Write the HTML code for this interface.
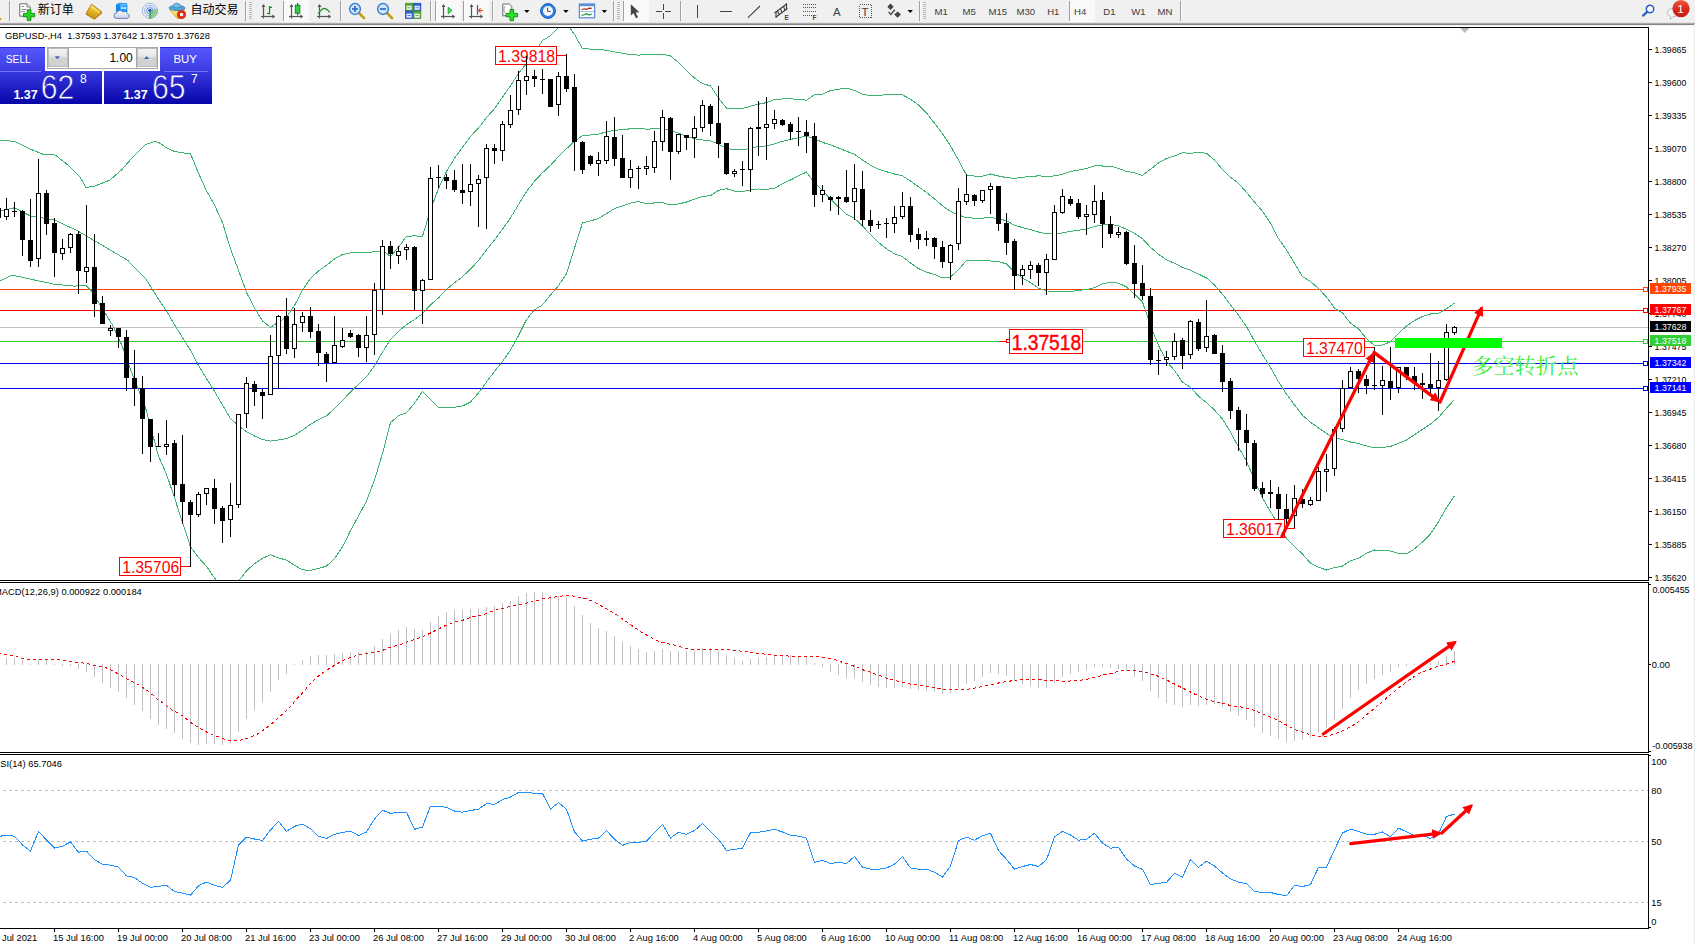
<!DOCTYPE html><html><head><meta charset="utf-8"><title>GBPUSD H4</title>
<style>html,body{margin:0;padding:0;background:#fff;}body{width:1695px;height:943px;overflow:hidden;position:relative;font-family:"Liberation Sans", "Noto Sans CJK SC", sans-serif;}svg{position:absolute;left:0;top:0;}text{font-family:"Liberation Sans", "Noto Sans CJK SC", sans-serif;}</style></head><body>
<svg width="1695" height="943" viewBox="0 0 1695 943">
<rect x="0" y="0" width="1695" height="943" fill="#fff"/>
<defs><clipPath id="cm"><rect x="0" y="28" width="1648" height="552"/></clipPath>
<clipPath id="cmacd"><rect x="0" y="583" width="1648" height="169"/></clipPath>
<clipPath id="crsi"><rect x="0" y="755" width="1648" height="173"/></clipPath>
<linearGradient id="gsell" x1="0" y1="0" x2="0" y2="1"><stop offset="0" stop-color="#5858ff"/><stop offset="1" stop-color="#3a3ae0"/></linearGradient>
<linearGradient id="gpx" x1="0" y1="0" x2="0" y2="1"><stop offset="0" stop-color="#3838e0"/><stop offset="1" stop-color="#0505a8"/></linearGradient>
<linearGradient id="gpx2" gradientUnits="userSpaceOnUse" x1="0" y1="71" x2="0" y2="104"><stop offset="0" stop-color="#3838e0"/><stop offset="1" stop-color="#0505a8"/></linearGradient>
<linearGradient id="gbook" x1="0.6" y1="0" x2="0.3" y2="1"><stop offset="0" stop-color="#f8d838"/><stop offset="1" stop-color="#c98e10"/></linearGradient>
<linearGradient id="gred" x1="0" y1="0" x2="0" y2="1"><stop offset="0" stop-color="#ee5a3c"/><stop offset="0.5" stop-color="#da2c18"/><stop offset="1" stop-color="#c41c10"/></linearGradient>
<linearGradient id="gcloud" x1="0" y1="0" x2="0" y2="1"><stop offset="0" stop-color="#ffffff"/><stop offset="1" stop-color="#c4d0e8"/></linearGradient>
<linearGradient id="gcone" x1="0" y1="0" x2="1" y2="1"><stop offset="0" stop-color="#fff0a0"/><stop offset="1" stop-color="#e8b818"/></linearGradient>
<linearGradient id="gbtn" x1="0" y1="0" x2="0" y2="1"><stop offset="0" stop-color="#f4f4f4"/><stop offset="0.45" stop-color="#e6e6e6"/><stop offset="0.5" stop-color="#d4d4d4"/><stop offset="1" stop-color="#cfcfcf"/></linearGradient>
<marker id="ah" viewBox="0 0 10 10" refX="7" refY="5" markerWidth="3.1" markerHeight="3.1" orient="auto"><path d="M0,0 L10,5 L0,10 z" fill="#ff0000"/></marker>
</defs>
<g clip-path="url(#cm)">
<g shape-rendering="crispEdges">
<rect x="0" y="289" width="1648" height="1" fill="#ff4500"/>
<rect x="0" y="310" width="1648" height="1" fill="#ff0000"/>
<rect x="0" y="327" width="1648" height="1" fill="#c0c0c0"/>
<rect x="0" y="341" width="1648" height="1" fill="#32cd32"/>
<rect x="0" y="363" width="1648" height="1" fill="#0000ff"/>
<rect x="0" y="388" width="1648" height="1" fill="#0000ff"/>
</g>
<g shape-rendering="crispEdges">
<polyline points="0.0,140.0 14.8,141.5 29.7,148.9 44.5,154.8 54.9,154.8 68.2,165.2 80.1,177.1 86.0,187.5 95.0,186.0 109.8,180.1 121.7,169.7 133.5,156.3 145.4,144.5 154.3,141.5 158.5,142.3 166.5,147.8 174.5,151.5 182.5,152.8 190.5,153.8 198.5,173.2 206.5,190.9 214.5,204.9 222.5,222.5 230.5,249.0 238.5,270.3 246.5,292.4 254.5,308.2 262.5,321.0 270.5,327.2 278.5,322.1 286.5,316.9 294.5,305.4 302.5,290.4 310.5,278.4 318.5,271.0 326.5,265.4 334.5,258.9 342.5,254.5 350.5,252.9 358.5,252.7 366.5,252.5 374.5,251.8 382.5,250.6 390.5,256.5 398.5,247.1 406.5,236.3 414.5,235.9 422.5,236.2 430.5,210.0 438.5,188.5 446.5,171.5 454.5,158.3 462.5,147.2 470.5,136.4 478.5,128.0 486.5,117.5 494.5,108.7 502.5,97.1 510.5,85.7 518.5,73.4 526.5,63.5 534.5,52.4 542.5,40.5 550.5,35.7 558.5,27.6 566.5,23.5 574.5,34.4 582.5,48.6 590.5,49.1 598.5,49.6 606.5,50.2 614.5,51.9 622.5,53.3 630.5,54.5 638.5,55.1 646.5,54.6 654.5,54.6 662.5,54.1 670.5,56.0 678.5,62.4 686.5,70.5 694.5,78.1 702.5,83.5 710.5,85.9 718.5,98.0 726.5,108.2 734.5,108.5 742.5,108.5 750.5,106.2 758.5,104.2 766.5,102.6 774.5,99.5 782.5,99.0 790.5,98.9 798.5,99.3 806.5,100.2 814.5,94.7 822.5,94.2 830.5,90.6 838.5,89.2 846.5,88.2 854.5,90.3 862.5,94.1 870.5,95.6 878.5,95.8 886.5,94.5 894.5,94.3 902.5,94.8 910.5,99.3 918.5,104.8 926.5,112.9 934.5,123.3 942.5,133.6 950.5,145.9 958.5,160.2 966.5,175.2 974.5,176.1 982.5,176.2 990.5,174.0 998.5,176.0 1006.5,177.6 1014.5,178.4 1022.5,177.2 1030.5,176.6 1038.5,175.8 1046.5,176.5 1054.5,175.9 1062.5,174.3 1070.5,171.4 1078.5,170.1 1086.5,168.6 1094.5,165.7 1102.5,166.0 1110.5,166.0 1118.5,168.4 1126.5,171.5 1134.5,172.7 1142.5,175.4 1150.5,169.3 1158.5,163.0 1166.5,158.5 1174.5,155.9 1182.5,152.8 1190.5,153.3 1198.5,152.2 1206.5,153.3 1214.5,160.1 1222.5,169.5 1230.5,177.2 1238.5,183.4 1246.5,192.3 1254.5,202.0 1262.5,211.3 1270.5,223.2 1278.5,238.6 1286.5,250.0 1294.5,263.3 1302.5,276.7 1310.5,281.4 1318.5,288.6 1326.5,297.0 1334.5,308.1 1342.5,313.0 1350.5,323.2 1358.5,328.7 1366.5,338.8 1374.5,345.3 1382.5,345.0 1390.5,341.8 1398.5,333.3 1406.5,326.1 1414.5,320.5 1422.5,316.5 1430.5,314.0 1438.5,313.4 1446.5,308.7 1454.5,303.2" fill="none" stroke="#3cb371" stroke-width="1" />
<polyline points="0.0,211.0 14.8,207.7 29.7,215.7 54.9,220.2 77.2,230.6 95.0,241.0 127.6,260.3 145.4,278.1 158.5,299.2 166.5,311.0 174.5,324.6 182.5,337.7 190.5,350.4 198.5,365.4 206.5,378.6 214.5,391.4 222.5,405.0 230.5,418.6 238.5,425.8 246.5,431.6 254.5,436.0 262.5,439.6 270.5,441.1 278.5,440.0 286.5,438.5 294.5,435.3 302.5,430.2 310.5,424.4 318.5,419.8 326.5,415.8 334.5,408.8 342.5,400.7 350.5,391.8 358.5,384.4 366.5,376.8 374.5,365.8 382.5,352.1 390.5,339.6 398.5,331.4 406.5,324.6 414.5,319.5 422.5,313.7 430.5,304.8 438.5,297.9 446.5,289.5 454.5,282.8 462.5,276.6 470.5,269.2 478.5,260.5 486.5,249.8 494.5,240.0 502.5,229.2 510.5,217.9 518.5,204.5 526.5,191.6 534.5,181.1 542.5,172.7 550.5,165.3 558.5,156.6 566.5,148.7 574.5,141.3 582.5,135.7 590.5,135.0 598.5,134.1 606.5,131.9 614.5,130.3 622.5,129.6 630.5,128.8 638.5,128.3 646.5,129.2 654.5,128.8 662.5,128.4 670.5,130.5 678.5,133.2 686.5,136.3 694.5,138.7 702.5,140.0 710.5,140.8 718.5,144.2 726.5,148.4 734.5,149.9 742.5,149.9 750.5,148.2 758.5,146.6 766.5,145.9 774.5,144.0 782.5,141.3 790.5,139.5 798.5,137.6 806.5,136.1 814.5,138.7 822.5,142.4 830.5,144.8 838.5,148.0 846.5,151.2 854.5,154.3 862.5,160.0 870.5,165.1 878.5,169.2 886.5,171.7 894.5,174.0 902.5,175.8 910.5,181.1 918.5,186.7 926.5,192.5 934.5,198.9 942.5,205.8 950.5,211.4 958.5,214.9 966.5,217.8 974.5,218.1 982.5,218.1 990.5,217.5 998.5,218.7 1006.5,220.8 1014.5,225.2 1022.5,227.6 1030.5,229.6 1038.5,232.0 1046.5,233.8 1054.5,233.5 1062.5,233.0 1070.5,231.4 1078.5,230.3 1086.5,229.0 1094.5,226.7 1102.5,224.8 1110.5,224.3 1118.5,225.8 1126.5,229.3 1134.5,233.4 1142.5,238.7 1150.5,247.4 1158.5,254.2 1166.5,259.9 1174.5,263.2 1182.5,267.5 1190.5,270.3 1198.5,274.1 1206.5,277.9 1214.5,285.0 1222.5,294.3 1230.5,304.7 1238.5,315.3 1246.5,326.7 1254.5,341.1 1262.5,354.6 1270.5,367.6 1278.5,381.5 1286.5,394.2 1294.5,405.0 1302.5,415.3 1310.5,422.3 1318.5,427.9 1326.5,433.5 1334.5,437.9 1342.5,439.5 1350.5,442.0 1358.5,443.5 1366.5,446.0 1374.5,447.7 1382.5,447.6 1390.5,446.4 1398.5,443.3 1406.5,440.0 1414.5,434.7 1422.5,429.3 1430.5,424.0 1438.5,417.5 1446.5,408.2 1454.5,399.6" fill="none" stroke="#3cb371" stroke-width="1" />
<polyline points="0.0,281.0 11.9,275.1 29.7,279.0 53.4,284.0 74.2,286.1 86.0,285.5 92.0,291.4 100.9,306.3 112.8,325.6 121.7,344.9 133.5,377.5 145.4,407.2 158.5,456.2 166.5,474.1 174.5,497.7 182.5,522.6 190.5,546.9 198.5,557.6 206.5,566.4 214.5,578.0 222.5,587.6 230.5,588.2 238.5,581.3 246.5,570.8 254.5,563.8 262.5,558.3 270.5,554.9 278.5,557.9 286.5,560.1 294.5,565.2 302.5,569.9 310.5,570.3 318.5,568.5 326.5,566.1 334.5,558.6 342.5,546.9 350.5,530.6 358.5,516.1 366.5,501.0 374.5,479.9 382.5,453.7 390.5,422.7 398.5,415.7 406.5,412.8 414.5,403.1 422.5,391.3 430.5,399.7 438.5,407.4 446.5,407.5 454.5,407.2 462.5,406.0 470.5,402.0 478.5,393.0 486.5,382.0 494.5,371.4 502.5,361.4 510.5,350.1 518.5,335.6 526.5,319.6 534.5,309.7 542.5,304.9 550.5,295.0 558.5,285.6 566.5,273.8 574.5,248.1 582.5,222.8 590.5,220.9 598.5,218.5 606.5,213.6 614.5,208.7 622.5,205.8 630.5,203.2 638.5,201.5 646.5,203.8 654.5,202.9 662.5,202.7 670.5,205.0 678.5,204.0 686.5,202.0 694.5,199.3 702.5,196.4 710.5,195.7 718.5,190.4 726.5,188.7 734.5,191.2 742.5,191.4 750.5,190.1 758.5,189.0 766.5,189.3 774.5,188.4 782.5,183.7 790.5,180.0 798.5,175.9 806.5,172.0 814.5,182.8 822.5,190.6 830.5,199.0 838.5,206.8 846.5,214.3 854.5,218.3 862.5,225.9 870.5,234.7 878.5,242.5 886.5,248.9 894.5,253.7 902.5,256.7 910.5,263.0 918.5,268.6 926.5,272.1 934.5,274.5 942.5,277.9 950.5,277.0 958.5,269.7 966.5,260.4 974.5,260.1 982.5,260.1 990.5,261.0 998.5,261.4 1006.5,264.0 1014.5,271.9 1022.5,278.0 1030.5,282.6 1038.5,288.2 1046.5,291.0 1054.5,291.1 1062.5,291.7 1070.5,291.5 1078.5,290.5 1086.5,289.5 1094.5,287.7 1102.5,283.7 1110.5,282.5 1118.5,283.1 1126.5,287.0 1134.5,294.2 1142.5,302.0 1150.5,325.5 1158.5,345.4 1166.5,361.3 1174.5,370.5 1182.5,382.2 1190.5,387.3 1198.5,396.1 1206.5,402.6 1214.5,410.0 1222.5,419.1 1230.5,432.1 1238.5,447.1 1246.5,461.1 1254.5,480.1 1262.5,497.8 1270.5,512.0 1278.5,524.4 1286.5,538.4 1294.5,546.6 1302.5,554.0 1310.5,563.2 1318.5,567.3 1326.5,570.0 1334.5,567.7 1342.5,566.0 1350.5,560.8 1358.5,558.3 1366.5,553.2 1374.5,550.0 1382.5,550.2 1390.5,551.1 1398.5,553.4 1406.5,553.9 1414.5,548.9 1422.5,542.0 1430.5,533.9 1438.5,521.6 1446.5,507.6 1454.5,495.9" fill="none" stroke="#3cb371" stroke-width="1" />
</g>
<rect x="495.5" y="46.5" width="61.0" height="18.0" fill="#fff" stroke="#ff0000" stroke-width="1" shape-rendering="crispEdges"/>
<text x="498.0" y="61.9" font-size="16.6px" fill="#ff0000" textLength="57" lengthAdjust="spacingAndGlyphs" >1.39818</text>
<g shape-rendering="crispEdges" fill="#ff0000"><rect x="557" y="55" width="10" height="1"/></g>
<rect x="119.5" y="557.5" width="61.0" height="18.0" fill="#fff" stroke="#ff0000" stroke-width="1" shape-rendering="crispEdges"/>
<text x="122.2" y="572.9" font-size="16.8px" fill="#ff0000" textLength="57" lengthAdjust="spacingAndGlyphs" >1.35706</text>
<g shape-rendering="crispEdges" fill="#ff0000"><rect x="181" y="566" width="9" height="1"/></g>
<rect x="1009.5" y="329.5" width="73.0" height="24.0" fill="#fff" stroke="#ff0000" stroke-width="1" shape-rendering="crispEdges"/>
<text x="1011.7" y="350.2" font-size="22.5px" fill="#ff0000" textLength="69.5" lengthAdjust="spacingAndGlyphs" stroke="#ff0000" stroke-width="0.45">1.37518</text>
<g shape-rendering="crispEdges"><rect x="999" y="341" width="8" height="1" fill="#ff0000"/><rect x="1006.5" y="339.5" width="3" height="3" fill="#fff" stroke="#ff0000"/></g>
<rect x="1223.5" y="519.5" width="61.0" height="18.0" fill="#fff" stroke="#ff0000" stroke-width="1" shape-rendering="crispEdges"/>
<text x="1225.9" y="535.0" font-size="16.8px" fill="#ff0000" textLength="57" lengthAdjust="spacingAndGlyphs" >1.36017</text>
<g shape-rendering="crispEdges" fill="#ff0000"><rect x="1285" y="528" width="10" height="1"/></g>
<rect x="1303.5" y="338.5" width="61.0" height="18.0" fill="#fff" stroke="#ff0000" stroke-width="1" shape-rendering="crispEdges"/>
<text x="1305.9" y="354.0" font-size="16.8px" fill="#ff0000" textLength="57" lengthAdjust="spacingAndGlyphs" >1.37470</text>
<g shape-rendering="crispEdges" fill="#ff0000"><rect x="1365" y="347" width="9" height="1"/></g>
<g shape-rendering="crispEdges" fill="#000">
<rect x="-2" y="206" width="1" height="14"/>
<rect x="-4" y="208" width="5" height="10"/>
<rect x="6" y="198" width="1" height="11"/>
<rect x="6" y="217" width="1" height="3"/>
<rect x="4.5" y="209.5" width="4" height="7" fill="#fff" stroke="#000" stroke-width="1"/>
<rect x="14" y="202" width="1" height="15"/>
<rect x="12" y="211" width="5" height="1"/>
<rect x="22" y="210" width="1" height="46"/>
<rect x="20" y="211" width="5" height="29"/>
<rect x="30" y="199" width="1" height="68"/>
<rect x="28" y="240" width="5" height="21"/>
<rect x="38" y="159" width="1" height="34"/>
<rect x="38" y="259" width="1" height="8"/>
<rect x="36.5" y="193.5" width="4" height="65" fill="#fff" stroke="#000" stroke-width="1"/>
<rect x="46" y="190" width="1" height="45"/>
<rect x="44" y="193" width="5" height="31"/>
<rect x="54" y="218" width="1" height="59"/>
<rect x="52" y="223" width="5" height="30"/>
<rect x="62" y="239" width="1" height="9"/>
<rect x="62" y="254" width="1" height="6"/>
<rect x="60.5" y="248.5" width="4" height="5" fill="#fff" stroke="#000" stroke-width="1"/>
<rect x="70" y="233" width="1" height="1"/>
<rect x="70" y="248" width="1" height="5"/>
<rect x="68.5" y="234.5" width="4" height="13" fill="#fff" stroke="#000" stroke-width="1"/>
<rect x="78" y="231" width="1" height="63"/>
<rect x="76" y="234" width="5" height="37"/>
<rect x="86" y="205" width="1" height="62"/>
<rect x="86" y="272" width="1" height="11"/>
<rect x="84.5" y="267.5" width="4" height="4" fill="#fff" stroke="#000" stroke-width="1"/>
<rect x="94" y="234" width="1" height="83"/>
<rect x="92" y="267" width="5" height="37"/>
<rect x="102" y="296" width="1" height="28"/>
<rect x="100" y="303" width="5" height="21"/>
<rect x="110" y="325" width="1" height="3"/>
<rect x="110" y="331" width="1" height="5"/>
<rect x="108.5" y="328.5" width="4" height="2" fill="#fff" stroke="#000" stroke-width="1"/>
<rect x="118" y="328" width="1" height="20"/>
<rect x="116" y="328" width="5" height="9"/>
<rect x="126" y="330" width="1" height="61"/>
<rect x="124" y="337" width="5" height="41"/>
<rect x="134" y="350" width="1" height="56"/>
<rect x="132" y="378" width="5" height="11"/>
<rect x="142" y="376" width="1" height="78"/>
<rect x="140" y="388" width="5" height="31"/>
<rect x="150" y="419" width="1" height="43"/>
<rect x="148" y="419" width="5" height="28"/>
<rect x="158" y="433" width="1" height="14"/>
<rect x="156" y="446" width="5" height="1"/>
<rect x="166" y="420" width="1" height="24"/>
<rect x="166" y="447" width="1" height="8"/>
<rect x="164.5" y="444.5" width="4" height="2" fill="#fff" stroke="#000" stroke-width="1"/>
<rect x="174" y="440" width="1" height="56"/>
<rect x="172" y="443" width="5" height="42"/>
<rect x="182" y="435" width="1" height="89"/>
<rect x="180" y="484" width="5" height="18"/>
<rect x="190" y="500" width="1" height="67"/>
<rect x="188" y="502" width="5" height="13"/>
<rect x="198" y="492" width="1" height="2"/>
<rect x="198" y="515" width="1" height="2"/>
<rect x="196.5" y="494.5" width="4" height="20" fill="#fff" stroke="#000" stroke-width="1"/>
<rect x="206" y="494" width="1" height="11"/>
<rect x="204.5" y="488.5" width="4" height="5" fill="#fff" stroke="#000" stroke-width="1"/>
<rect x="214" y="479" width="1" height="45"/>
<rect x="212" y="488" width="5" height="21"/>
<rect x="222" y="506" width="1" height="37"/>
<rect x="220" y="508" width="5" height="13"/>
<rect x="230" y="483" width="1" height="22"/>
<rect x="230" y="520" width="1" height="17"/>
<rect x="228.5" y="505.5" width="4" height="14" fill="#fff" stroke="#000" stroke-width="1"/>
<rect x="238" y="505" width="1" height="3"/>
<rect x="236.5" y="414.5" width="4" height="90" fill="#fff" stroke="#000" stroke-width="1"/>
<rect x="246" y="377" width="1" height="6"/>
<rect x="246" y="414" width="1" height="14"/>
<rect x="244.5" y="383.5" width="4" height="30" fill="#fff" stroke="#000" stroke-width="1"/>
<rect x="254" y="381" width="1" height="25"/>
<rect x="252" y="384" width="5" height="8"/>
<rect x="262" y="389" width="1" height="30"/>
<rect x="260" y="392" width="5" height="4"/>
<rect x="270" y="335" width="1" height="21"/>
<rect x="268.5" y="356.5" width="4" height="38" fill="#fff" stroke="#000" stroke-width="1"/>
<rect x="278" y="315" width="1" height="1"/>
<rect x="278" y="356" width="1" height="33"/>
<rect x="276.5" y="316.5" width="4" height="39" fill="#fff" stroke="#000" stroke-width="1"/>
<rect x="286" y="298" width="1" height="56"/>
<rect x="284" y="316" width="5" height="33"/>
<rect x="294" y="308" width="1" height="16"/>
<rect x="294" y="349" width="1" height="9"/>
<rect x="292.5" y="324.5" width="4" height="24" fill="#fff" stroke="#000" stroke-width="1"/>
<rect x="302" y="312" width="1" height="4"/>
<rect x="302" y="323" width="1" height="9"/>
<rect x="300.5" y="316.5" width="4" height="6" fill="#fff" stroke="#000" stroke-width="1"/>
<rect x="310" y="307" width="1" height="31"/>
<rect x="308" y="316" width="5" height="16"/>
<rect x="318" y="324" width="1" height="42"/>
<rect x="316" y="331" width="5" height="22"/>
<rect x="326" y="352" width="1" height="30"/>
<rect x="324" y="354" width="5" height="9"/>
<rect x="334" y="316" width="1" height="29"/>
<rect x="332.5" y="345.5" width="4" height="17" fill="#fff" stroke="#000" stroke-width="1"/>
<rect x="342" y="328" width="1" height="12"/>
<rect x="342" y="347" width="1" height="1"/>
<rect x="340.5" y="340.5" width="4" height="6" fill="#fff" stroke="#000" stroke-width="1"/>
<rect x="350" y="330" width="1" height="8"/>
<rect x="348" y="333" width="5" height="4"/>
<rect x="358" y="334" width="1" height="23"/>
<rect x="356" y="335" width="5" height="13"/>
<rect x="366" y="316" width="1" height="19"/>
<rect x="366" y="348" width="1" height="14"/>
<rect x="364.5" y="335.5" width="4" height="12" fill="#fff" stroke="#000" stroke-width="1"/>
<rect x="374" y="283" width="1" height="7"/>
<rect x="374" y="335" width="1" height="20"/>
<rect x="372.5" y="290.5" width="4" height="44" fill="#fff" stroke="#000" stroke-width="1"/>
<rect x="382" y="240" width="1" height="6"/>
<rect x="382" y="290" width="1" height="25"/>
<rect x="380.5" y="246.5" width="4" height="43" fill="#fff" stroke="#000" stroke-width="1"/>
<rect x="390" y="241" width="1" height="28"/>
<rect x="388" y="246" width="5" height="8"/>
<rect x="398" y="246" width="1" height="5"/>
<rect x="398" y="256" width="1" height="8"/>
<rect x="396.5" y="251.5" width="4" height="4" fill="#fff" stroke="#000" stroke-width="1"/>
<rect x="406" y="244" width="1" height="3"/>
<rect x="406" y="250" width="1" height="10"/>
<rect x="404.5" y="247.5" width="4" height="2" fill="#fff" stroke="#000" stroke-width="1"/>
<rect x="414" y="246" width="1" height="64"/>
<rect x="412" y="247" width="5" height="44"/>
<rect x="422" y="279" width="1" height="1"/>
<rect x="422" y="291" width="1" height="33"/>
<rect x="420.5" y="280.5" width="4" height="10" fill="#fff" stroke="#000" stroke-width="1"/>
<rect x="430" y="167" width="1" height="11"/>
<rect x="428.5" y="178.5" width="4" height="101" fill="#fff" stroke="#000" stroke-width="1"/>
<rect x="438" y="165" width="1" height="23"/>
<rect x="436" y="177" width="5" height="1"/>
<rect x="446" y="174" width="1" height="15"/>
<rect x="444" y="177" width="5" height="4"/>
<rect x="454" y="170" width="1" height="22"/>
<rect x="452" y="180" width="5" height="10"/>
<rect x="462" y="164" width="1" height="40"/>
<rect x="460" y="190" width="5" height="3"/>
<rect x="470" y="164" width="1" height="20"/>
<rect x="470" y="192" width="1" height="14"/>
<rect x="468.5" y="184.5" width="4" height="7" fill="#fff" stroke="#000" stroke-width="1"/>
<rect x="478" y="175" width="1" height="4"/>
<rect x="478" y="184" width="1" height="43"/>
<rect x="476.5" y="179.5" width="4" height="4" fill="#fff" stroke="#000" stroke-width="1"/>
<rect x="486" y="144" width="1" height="4"/>
<rect x="486" y="178" width="1" height="51"/>
<rect x="484.5" y="148.5" width="4" height="29" fill="#fff" stroke="#000" stroke-width="1"/>
<rect x="494" y="144" width="1" height="20"/>
<rect x="492" y="148" width="5" height="3"/>
<rect x="502" y="121" width="1" height="3"/>
<rect x="502" y="151" width="1" height="10"/>
<rect x="500.5" y="124.5" width="4" height="26" fill="#fff" stroke="#000" stroke-width="1"/>
<rect x="510" y="95" width="1" height="15"/>
<rect x="510" y="125" width="1" height="3"/>
<rect x="508.5" y="110.5" width="4" height="14" fill="#fff" stroke="#000" stroke-width="1"/>
<rect x="518" y="71" width="1" height="9"/>
<rect x="518" y="110" width="1" height="5"/>
<rect x="516.5" y="80.5" width="4" height="29" fill="#fff" stroke="#000" stroke-width="1"/>
<rect x="526" y="56" width="1" height="20"/>
<rect x="526" y="81" width="1" height="14"/>
<rect x="524.5" y="76.5" width="4" height="4" fill="#fff" stroke="#000" stroke-width="1"/>
<rect x="534" y="70" width="1" height="17"/>
<rect x="532" y="76" width="5" height="3"/>
<rect x="542" y="69" width="1" height="25"/>
<rect x="540" y="79" width="5" height="1"/>
<rect x="550" y="79" width="1" height="28"/>
<rect x="548" y="79" width="5" height="28"/>
<rect x="558" y="72" width="1" height="4"/>
<rect x="558" y="105" width="1" height="11"/>
<rect x="556.5" y="76.5" width="4" height="28" fill="#fff" stroke="#000" stroke-width="1"/>
<rect x="566" y="54" width="1" height="38"/>
<rect x="564" y="76" width="5" height="13"/>
<rect x="574" y="74" width="1" height="97"/>
<rect x="572" y="87" width="5" height="55"/>
<rect x="582" y="141" width="1" height="33"/>
<rect x="580" y="142" width="5" height="28"/>
<rect x="590" y="155" width="1" height="11"/>
<rect x="588" y="156" width="5" height="8"/>
<rect x="598" y="152" width="1" height="8"/>
<rect x="598" y="164" width="1" height="12"/>
<rect x="596.5" y="160.5" width="4" height="3" fill="#fff" stroke="#000" stroke-width="1"/>
<rect x="606" y="121" width="1" height="15"/>
<rect x="606" y="161" width="1" height="3"/>
<rect x="604.5" y="136.5" width="4" height="24" fill="#fff" stroke="#000" stroke-width="1"/>
<rect x="614" y="117" width="1" height="49"/>
<rect x="612" y="137" width="5" height="22"/>
<rect x="622" y="135" width="1" height="43"/>
<rect x="620" y="158" width="5" height="20"/>
<rect x="630" y="160" width="1" height="9"/>
<rect x="630" y="178" width="1" height="10"/>
<rect x="628.5" y="169.5" width="4" height="8" fill="#fff" stroke="#000" stroke-width="1"/>
<rect x="638" y="166" width="1" height="23"/>
<rect x="636" y="168" width="5" height="1"/>
<rect x="646" y="156" width="1" height="10"/>
<rect x="646" y="169" width="1" height="6"/>
<rect x="644.5" y="166.5" width="4" height="2" fill="#fff" stroke="#000" stroke-width="1"/>
<rect x="654" y="131" width="1" height="10"/>
<rect x="654" y="168" width="1" height="5"/>
<rect x="652.5" y="141.5" width="4" height="26" fill="#fff" stroke="#000" stroke-width="1"/>
<rect x="662" y="110" width="1" height="7"/>
<rect x="662" y="142" width="1" height="9"/>
<rect x="660.5" y="117.5" width="4" height="24" fill="#fff" stroke="#000" stroke-width="1"/>
<rect x="670" y="117" width="1" height="63"/>
<rect x="668" y="118" width="5" height="34"/>
<rect x="678" y="152" width="1" height="2"/>
<rect x="676.5" y="134.5" width="4" height="17" fill="#fff" stroke="#000" stroke-width="1"/>
<rect x="686" y="135" width="1" height="15"/>
<rect x="684" y="135" width="5" height="3"/>
<rect x="694" y="116" width="1" height="12"/>
<rect x="694" y="138" width="1" height="20"/>
<rect x="692.5" y="128.5" width="4" height="9" fill="#fff" stroke="#000" stroke-width="1"/>
<rect x="702" y="100" width="1" height="5"/>
<rect x="702" y="128" width="1" height="4"/>
<rect x="700.5" y="105.5" width="4" height="22" fill="#fff" stroke="#000" stroke-width="1"/>
<rect x="710" y="104" width="1" height="32"/>
<rect x="708" y="106" width="5" height="18"/>
<rect x="718" y="86" width="1" height="72"/>
<rect x="716" y="123" width="5" height="21"/>
<rect x="726" y="143" width="1" height="32"/>
<rect x="724" y="143" width="5" height="31"/>
<rect x="734" y="169" width="1" height="2"/>
<rect x="734" y="174" width="1" height="3"/>
<rect x="732.5" y="171.5" width="4" height="2" fill="#fff" stroke="#000" stroke-width="1"/>
<rect x="742" y="161" width="1" height="25"/>
<rect x="740" y="169" width="5" height="1"/>
<rect x="750" y="127" width="1" height="1"/>
<rect x="750" y="170" width="1" height="22"/>
<rect x="748.5" y="128.5" width="4" height="41" fill="#fff" stroke="#000" stroke-width="1"/>
<rect x="758" y="101" width="1" height="55"/>
<rect x="756" y="127" width="5" height="2"/>
<rect x="766" y="97" width="1" height="27"/>
<rect x="766" y="128" width="1" height="32"/>
<rect x="764.5" y="124.5" width="4" height="3" fill="#fff" stroke="#000" stroke-width="1"/>
<rect x="774" y="110" width="1" height="9"/>
<rect x="774" y="124" width="1" height="5"/>
<rect x="772.5" y="119.5" width="4" height="4" fill="#fff" stroke="#000" stroke-width="1"/>
<rect x="782" y="119" width="1" height="7"/>
<rect x="780" y="120" width="5" height="5"/>
<rect x="790" y="122" width="1" height="18"/>
<rect x="788" y="124" width="5" height="8"/>
<rect x="798" y="117" width="1" height="29"/>
<rect x="796" y="131" width="5" height="1"/>
<rect x="806" y="120" width="1" height="33"/>
<rect x="804" y="132" width="5" height="4"/>
<rect x="814" y="123" width="1" height="84"/>
<rect x="812" y="136" width="5" height="59"/>
<rect x="822" y="185" width="1" height="5"/>
<rect x="822" y="195" width="1" height="7"/>
<rect x="820.5" y="190.5" width="4" height="4" fill="#fff" stroke="#000" stroke-width="1"/>
<rect x="830" y="196" width="1" height="15"/>
<rect x="828" y="197" width="5" height="3"/>
<rect x="838" y="196" width="1" height="19"/>
<rect x="836" y="197" width="5" height="2"/>
<rect x="846" y="170" width="1" height="33"/>
<rect x="844" y="197" width="5" height="5"/>
<rect x="854" y="164" width="1" height="24"/>
<rect x="854" y="202" width="1" height="18"/>
<rect x="852.5" y="188.5" width="4" height="13" fill="#fff" stroke="#000" stroke-width="1"/>
<rect x="862" y="171" width="1" height="55"/>
<rect x="860" y="189" width="5" height="31"/>
<rect x="870" y="210" width="1" height="22"/>
<rect x="868" y="220" width="5" height="6"/>
<rect x="878" y="221" width="1" height="8"/>
<rect x="876" y="224" width="5" height="1"/>
<rect x="886" y="218" width="1" height="20"/>
<rect x="884" y="223" width="5" height="1"/>
<rect x="894" y="206" width="1" height="11"/>
<rect x="894" y="224" width="1" height="9"/>
<rect x="892.5" y="217.5" width="4" height="6" fill="#fff" stroke="#000" stroke-width="1"/>
<rect x="902" y="192" width="1" height="14"/>
<rect x="902" y="217" width="1" height="2"/>
<rect x="900.5" y="206.5" width="4" height="10" fill="#fff" stroke="#000" stroke-width="1"/>
<rect x="910" y="197" width="1" height="45"/>
<rect x="908" y="206" width="5" height="29"/>
<rect x="918" y="228" width="1" height="21"/>
<rect x="916" y="234" width="5" height="6"/>
<rect x="926" y="231" width="1" height="15"/>
<rect x="924" y="238" width="5" height="2"/>
<rect x="934" y="237" width="1" height="22"/>
<rect x="932" y="238" width="5" height="9"/>
<rect x="942" y="241" width="1" height="27"/>
<rect x="940" y="247" width="5" height="15"/>
<rect x="950" y="244" width="1" height="1"/>
<rect x="950" y="263" width="1" height="17"/>
<rect x="948.5" y="245.5" width="4" height="17" fill="#fff" stroke="#000" stroke-width="1"/>
<rect x="958" y="188" width="1" height="13"/>
<rect x="958" y="244" width="1" height="6"/>
<rect x="956.5" y="201.5" width="4" height="42" fill="#fff" stroke="#000" stroke-width="1"/>
<rect x="966" y="174" width="1" height="20"/>
<rect x="966" y="202" width="1" height="3"/>
<rect x="964.5" y="194.5" width="4" height="7" fill="#fff" stroke="#000" stroke-width="1"/>
<rect x="974" y="194" width="1" height="12"/>
<rect x="972" y="195" width="5" height="6"/>
<rect x="982" y="201" width="1" height="2"/>
<rect x="980.5" y="190.5" width="4" height="10" fill="#fff" stroke="#000" stroke-width="1"/>
<rect x="990" y="183" width="1" height="3"/>
<rect x="990" y="190" width="1" height="24"/>
<rect x="988.5" y="186.5" width="4" height="3" fill="#fff" stroke="#000" stroke-width="1"/>
<rect x="998" y="186" width="1" height="45"/>
<rect x="996" y="186" width="5" height="38"/>
<rect x="1006" y="213" width="1" height="42"/>
<rect x="1004" y="223" width="5" height="20"/>
<rect x="1014" y="239" width="1" height="51"/>
<rect x="1012" y="241" width="5" height="35"/>
<rect x="1022" y="265" width="1" height="4"/>
<rect x="1022" y="276" width="1" height="9"/>
<rect x="1020.5" y="269.5" width="4" height="6" fill="#fff" stroke="#000" stroke-width="1"/>
<rect x="1030" y="261" width="1" height="4"/>
<rect x="1030" y="270" width="1" height="9"/>
<rect x="1028.5" y="265.5" width="4" height="4" fill="#fff" stroke="#000" stroke-width="1"/>
<rect x="1038" y="263" width="1" height="23"/>
<rect x="1036" y="265" width="5" height="8"/>
<rect x="1046" y="254" width="1" height="5"/>
<rect x="1046" y="273" width="1" height="22"/>
<rect x="1044.5" y="259.5" width="4" height="13" fill="#fff" stroke="#000" stroke-width="1"/>
<rect x="1054" y="205" width="1" height="7"/>
<rect x="1052.5" y="212.5" width="4" height="47" fill="#fff" stroke="#000" stroke-width="1"/>
<rect x="1062" y="189" width="1" height="7"/>
<rect x="1062" y="213" width="1" height="1"/>
<rect x="1060.5" y="196.5" width="4" height="16" fill="#fff" stroke="#000" stroke-width="1"/>
<rect x="1070" y="196" width="1" height="10"/>
<rect x="1068" y="199" width="5" height="5"/>
<rect x="1078" y="199" width="1" height="20"/>
<rect x="1076" y="203" width="5" height="14"/>
<rect x="1086" y="205" width="1" height="9"/>
<rect x="1086" y="217" width="1" height="18"/>
<rect x="1084.5" y="214.5" width="4" height="2" fill="#fff" stroke="#000" stroke-width="1"/>
<rect x="1094" y="185" width="1" height="16"/>
<rect x="1094" y="215" width="1" height="8"/>
<rect x="1092.5" y="201.5" width="4" height="13" fill="#fff" stroke="#000" stroke-width="1"/>
<rect x="1102" y="192" width="1" height="56"/>
<rect x="1100" y="200" width="5" height="24"/>
<rect x="1110" y="216" width="1" height="22"/>
<rect x="1108" y="224" width="5" height="10"/>
<rect x="1118" y="227" width="1" height="5"/>
<rect x="1118" y="235" width="1" height="3"/>
<rect x="1116.5" y="232.5" width="4" height="2" fill="#fff" stroke="#000" stroke-width="1"/>
<rect x="1126" y="231" width="1" height="34"/>
<rect x="1124" y="232" width="5" height="32"/>
<rect x="1134" y="245" width="1" height="53"/>
<rect x="1132" y="263" width="5" height="21"/>
<rect x="1142" y="265" width="1" height="35"/>
<rect x="1140" y="283" width="5" height="13"/>
<rect x="1150" y="288" width="1" height="77"/>
<rect x="1148" y="296" width="5" height="64"/>
<rect x="1158" y="350" width="1" height="25"/>
<rect x="1156" y="360" width="5" height="1"/>
<rect x="1166" y="351" width="1" height="6"/>
<rect x="1166" y="360" width="1" height="6"/>
<rect x="1164.5" y="357.5" width="4" height="2" fill="#fff" stroke="#000" stroke-width="1"/>
<rect x="1174" y="333" width="1" height="8"/>
<rect x="1174" y="357" width="1" height="3"/>
<rect x="1172.5" y="341.5" width="4" height="15" fill="#fff" stroke="#000" stroke-width="1"/>
<rect x="1182" y="338" width="1" height="31"/>
<rect x="1180" y="340" width="5" height="16"/>
<rect x="1190" y="320" width="1" height="1"/>
<rect x="1190" y="355" width="1" height="4"/>
<rect x="1188.5" y="321.5" width="4" height="33" fill="#fff" stroke="#000" stroke-width="1"/>
<rect x="1198" y="319" width="1" height="32"/>
<rect x="1196" y="322" width="5" height="27"/>
<rect x="1206" y="300" width="1" height="36"/>
<rect x="1206" y="348" width="1" height="4"/>
<rect x="1204.5" y="336.5" width="4" height="11" fill="#fff" stroke="#000" stroke-width="1"/>
<rect x="1214" y="334" width="1" height="20"/>
<rect x="1212" y="335" width="5" height="19"/>
<rect x="1222" y="345" width="1" height="47"/>
<rect x="1220" y="353" width="5" height="29"/>
<rect x="1230" y="378" width="1" height="41"/>
<rect x="1228" y="381" width="5" height="30"/>
<rect x="1238" y="407" width="1" height="44"/>
<rect x="1236" y="410" width="5" height="20"/>
<rect x="1246" y="414" width="1" height="52"/>
<rect x="1244" y="430" width="5" height="13"/>
<rect x="1254" y="440" width="1" height="51"/>
<rect x="1252" y="443" width="5" height="46"/>
<rect x="1262" y="482" width="1" height="16"/>
<rect x="1260" y="488" width="5" height="6"/>
<rect x="1270" y="480" width="1" height="28"/>
<rect x="1268" y="492" width="5" height="2"/>
<rect x="1278" y="487" width="1" height="33"/>
<rect x="1276" y="494" width="5" height="15"/>
<rect x="1286" y="494" width="1" height="31"/>
<rect x="1284" y="509" width="5" height="10"/>
<rect x="1294" y="485" width="1" height="13"/>
<rect x="1294" y="516" width="1" height="12"/>
<rect x="1292.5" y="498.5" width="4" height="17" fill="#fff" stroke="#000" stroke-width="1"/>
<rect x="1302" y="489" width="1" height="19"/>
<rect x="1300" y="499" width="5" height="5"/>
<rect x="1310" y="497" width="1" height="3"/>
<rect x="1310" y="505" width="1" height="1"/>
<rect x="1308.5" y="500.5" width="4" height="4" fill="#fff" stroke="#000" stroke-width="1"/>
<rect x="1318" y="467" width="1" height="4"/>
<rect x="1316.5" y="471.5" width="4" height="29" fill="#fff" stroke="#000" stroke-width="1"/>
<rect x="1326" y="454" width="1" height="15"/>
<rect x="1326" y="472" width="1" height="20"/>
<rect x="1324.5" y="469.5" width="4" height="2" fill="#fff" stroke="#000" stroke-width="1"/>
<rect x="1334" y="427" width="1" height="2"/>
<rect x="1334" y="469" width="1" height="7"/>
<rect x="1332.5" y="429.5" width="4" height="39" fill="#fff" stroke="#000" stroke-width="1"/>
<rect x="1342" y="380" width="1" height="8"/>
<rect x="1342" y="429" width="1" height="3"/>
<rect x="1340.5" y="388.5" width="4" height="40" fill="#fff" stroke="#000" stroke-width="1"/>
<rect x="1350" y="367" width="1" height="4"/>
<rect x="1348.5" y="371.5" width="4" height="16" fill="#fff" stroke="#000" stroke-width="1"/>
<rect x="1358" y="369" width="1" height="24"/>
<rect x="1356" y="371" width="5" height="8"/>
<rect x="1366" y="375" width="1" height="19"/>
<rect x="1364" y="379" width="5" height="7"/>
<rect x="1374" y="347" width="1" height="43"/>
<rect x="1372" y="385" width="5" height="1"/>
<rect x="1382" y="366" width="1" height="14"/>
<rect x="1382" y="386" width="1" height="29"/>
<rect x="1380.5" y="380.5" width="4" height="5" fill="#fff" stroke="#000" stroke-width="1"/>
<rect x="1390" y="347" width="1" height="53"/>
<rect x="1388" y="381" width="5" height="7"/>
<rect x="1398" y="388" width="1" height="5"/>
<rect x="1396.5" y="367.5" width="4" height="20" fill="#fff" stroke="#000" stroke-width="1"/>
<rect x="1406" y="367" width="1" height="13"/>
<rect x="1404" y="367" width="5" height="9"/>
<rect x="1414" y="367" width="1" height="23"/>
<rect x="1412" y="376" width="5" height="7"/>
<rect x="1422" y="373" width="1" height="26"/>
<rect x="1420" y="383" width="5" height="2"/>
<rect x="1430" y="353" width="1" height="40"/>
<rect x="1428" y="384" width="5" height="4"/>
<rect x="1438" y="361" width="1" height="19"/>
<rect x="1438" y="388" width="1" height="23"/>
<rect x="1436.5" y="380.5" width="4" height="7" fill="#fff" stroke="#000" stroke-width="1"/>
<rect x="1446" y="324" width="1" height="8"/>
<rect x="1446" y="380" width="1" height="1"/>
<rect x="1444.5" y="332.5" width="4" height="47" fill="#fff" stroke="#000" stroke-width="1"/>
<rect x="1454" y="326" width="1" height="1"/>
<rect x="1454" y="333" width="1" height="2"/>
<rect x="1452.5" y="327.5" width="4" height="5" fill="#fff" stroke="#000" stroke-width="1"/>
</g>
</g>
<g clip-path="url(#cmacd)" shape-rendering="crispEdges">
<rect x="6" y="658" width="1" height="7" fill="#c0c0c0"/>
<rect x="14" y="658" width="1" height="7" fill="#c0c0c0"/>
<rect x="22" y="660" width="1" height="5" fill="#c0c0c0"/>
<rect x="30" y="664" width="1" height="1" fill="#c0c0c0"/>
<rect x="38" y="660" width="1" height="5" fill="#c0c0c0"/>
<rect x="46" y="660" width="1" height="5" fill="#c0c0c0"/>
<rect x="54" y="664" width="1" height="1" fill="#c0c0c0"/>
<rect x="62" y="664" width="1" height="2" fill="#c0c0c0"/>
<rect x="70" y="664" width="1" height="2" fill="#c0c0c0"/>
<rect x="78" y="664" width="1" height="5" fill="#c0c0c0"/>
<rect x="86" y="664" width="1" height="8" fill="#c0c0c0"/>
<rect x="94" y="664" width="1" height="13" fill="#c0c0c0"/>
<rect x="102" y="664" width="1" height="19" fill="#c0c0c0"/>
<rect x="110" y="664" width="1" height="24" fill="#c0c0c0"/>
<rect x="118" y="664" width="1" height="28" fill="#c0c0c0"/>
<rect x="126" y="664" width="1" height="34" fill="#c0c0c0"/>
<rect x="134" y="664" width="1" height="41" fill="#c0c0c0"/>
<rect x="142" y="664" width="1" height="47" fill="#c0c0c0"/>
<rect x="150" y="664" width="1" height="55" fill="#c0c0c0"/>
<rect x="158" y="664" width="1" height="61" fill="#c0c0c0"/>
<rect x="166" y="664" width="1" height="65" fill="#c0c0c0"/>
<rect x="174" y="664" width="1" height="69" fill="#c0c0c0"/>
<rect x="182" y="664" width="1" height="75" fill="#c0c0c0"/>
<rect x="190" y="664" width="1" height="79" fill="#c0c0c0"/>
<rect x="198" y="664" width="1" height="81" fill="#c0c0c0"/>
<rect x="206" y="664" width="1" height="80" fill="#c0c0c0"/>
<rect x="214" y="664" width="1" height="80" fill="#c0c0c0"/>
<rect x="222" y="664" width="1" height="81" fill="#c0c0c0"/>
<rect x="230" y="664" width="1" height="79" fill="#c0c0c0"/>
<rect x="238" y="664" width="1" height="68" fill="#c0c0c0"/>
<rect x="246" y="664" width="1" height="55" fill="#c0c0c0"/>
<rect x="254" y="664" width="1" height="46" fill="#c0c0c0"/>
<rect x="262" y="664" width="1" height="38" fill="#c0c0c0"/>
<rect x="270" y="664" width="1" height="28" fill="#c0c0c0"/>
<rect x="278" y="664" width="1" height="16" fill="#c0c0c0"/>
<rect x="286" y="664" width="1" height="10" fill="#c0c0c0"/>
<rect x="294" y="664" width="1" height="1" fill="#c0c0c0"/>
<rect x="302" y="660" width="1" height="5" fill="#c0c0c0"/>
<rect x="310" y="656" width="1" height="9" fill="#c0c0c0"/>
<rect x="318" y="655" width="1" height="10" fill="#c0c0c0"/>
<rect x="326" y="655" width="1" height="10" fill="#c0c0c0"/>
<rect x="334" y="654" width="1" height="11" fill="#c0c0c0"/>
<rect x="342" y="653" width="1" height="12" fill="#c0c0c0"/>
<rect x="350" y="652" width="1" height="13" fill="#c0c0c0"/>
<rect x="358" y="652" width="1" height="13" fill="#c0c0c0"/>
<rect x="366" y="651" width="1" height="14" fill="#c0c0c0"/>
<rect x="374" y="646" width="1" height="19" fill="#c0c0c0"/>
<rect x="382" y="639" width="1" height="26" fill="#c0c0c0"/>
<rect x="390" y="634" width="1" height="31" fill="#c0c0c0"/>
<rect x="398" y="630" width="1" height="35" fill="#c0c0c0"/>
<rect x="406" y="627" width="1" height="38" fill="#c0c0c0"/>
<rect x="414" y="629" width="1" height="36" fill="#c0c0c0"/>
<rect x="422" y="630" width="1" height="35" fill="#c0c0c0"/>
<rect x="430" y="622" width="1" height="43" fill="#c0c0c0"/>
<rect x="438" y="616" width="1" height="49" fill="#c0c0c0"/>
<rect x="446" y="612" width="1" height="53" fill="#c0c0c0"/>
<rect x="454" y="610" width="1" height="55" fill="#c0c0c0"/>
<rect x="462" y="610" width="1" height="55" fill="#c0c0c0"/>
<rect x="470" y="609" width="1" height="56" fill="#c0c0c0"/>
<rect x="478" y="609" width="1" height="56" fill="#c0c0c0"/>
<rect x="486" y="607" width="1" height="58" fill="#c0c0c0"/>
<rect x="494" y="606" width="1" height="59" fill="#c0c0c0"/>
<rect x="502" y="603" width="1" height="62" fill="#c0c0c0"/>
<rect x="510" y="601" width="1" height="64" fill="#c0c0c0"/>
<rect x="518" y="596" width="1" height="69" fill="#c0c0c0"/>
<rect x="526" y="593" width="1" height="72" fill="#c0c0c0"/>
<rect x="534" y="592" width="1" height="73" fill="#c0c0c0"/>
<rect x="542" y="592" width="1" height="73" fill="#c0c0c0"/>
<rect x="550" y="595" width="1" height="70" fill="#c0c0c0"/>
<rect x="558" y="596" width="1" height="69" fill="#c0c0c0"/>
<rect x="566" y="598" width="1" height="67" fill="#c0c0c0"/>
<rect x="574" y="606" width="1" height="59" fill="#c0c0c0"/>
<rect x="582" y="615" width="1" height="50" fill="#c0c0c0"/>
<rect x="590" y="623" width="1" height="42" fill="#c0c0c0"/>
<rect x="598" y="628" width="1" height="37" fill="#c0c0c0"/>
<rect x="606" y="631" width="1" height="34" fill="#c0c0c0"/>
<rect x="614" y="636" width="1" height="29" fill="#c0c0c0"/>
<rect x="622" y="642" width="1" height="23" fill="#c0c0c0"/>
<rect x="630" y="646" width="1" height="19" fill="#c0c0c0"/>
<rect x="638" y="649" width="1" height="16" fill="#c0c0c0"/>
<rect x="646" y="652" width="1" height="13" fill="#c0c0c0"/>
<rect x="654" y="651" width="1" height="14" fill="#c0c0c0"/>
<rect x="662" y="649" width="1" height="16" fill="#c0c0c0"/>
<rect x="670" y="651" width="1" height="14" fill="#c0c0c0"/>
<rect x="678" y="651" width="1" height="14" fill="#c0c0c0"/>
<rect x="686" y="651" width="1" height="14" fill="#c0c0c0"/>
<rect x="694" y="650" width="1" height="15" fill="#c0c0c0"/>
<rect x="702" y="648" width="1" height="17" fill="#c0c0c0"/>
<rect x="710" y="648" width="1" height="17" fill="#c0c0c0"/>
<rect x="718" y="650" width="1" height="15" fill="#c0c0c0"/>
<rect x="726" y="655" width="1" height="10" fill="#c0c0c0"/>
<rect x="734" y="658" width="1" height="7" fill="#c0c0c0"/>
<rect x="742" y="661" width="1" height="4" fill="#c0c0c0"/>
<rect x="750" y="659" width="1" height="6" fill="#c0c0c0"/>
<rect x="758" y="658" width="1" height="7" fill="#c0c0c0"/>
<rect x="766" y="657" width="1" height="8" fill="#c0c0c0"/>
<rect x="774" y="656" width="1" height="9" fill="#c0c0c0"/>
<rect x="782" y="655" width="1" height="10" fill="#c0c0c0"/>
<rect x="790" y="655" width="1" height="10" fill="#c0c0c0"/>
<rect x="798" y="656" width="1" height="9" fill="#c0c0c0"/>
<rect x="806" y="656" width="1" height="9" fill="#c0c0c0"/>
<rect x="814" y="663" width="1" height="2" fill="#c0c0c0"/>
<rect x="822" y="664" width="1" height="3" fill="#c0c0c0"/>
<rect x="830" y="664" width="1" height="8" fill="#c0c0c0"/>
<rect x="838" y="664" width="1" height="11" fill="#c0c0c0"/>
<rect x="846" y="664" width="1" height="14" fill="#c0c0c0"/>
<rect x="854" y="664" width="1" height="14" fill="#c0c0c0"/>
<rect x="862" y="664" width="1" height="18" fill="#c0c0c0"/>
<rect x="870" y="664" width="1" height="21" fill="#c0c0c0"/>
<rect x="878" y="664" width="1" height="23" fill="#c0c0c0"/>
<rect x="886" y="664" width="1" height="24" fill="#c0c0c0"/>
<rect x="894" y="664" width="1" height="24" fill="#c0c0c0"/>
<rect x="902" y="664" width="1" height="23" fill="#c0c0c0"/>
<rect x="910" y="664" width="1" height="25" fill="#c0c0c0"/>
<rect x="918" y="664" width="1" height="26" fill="#c0c0c0"/>
<rect x="926" y="664" width="1" height="27" fill="#c0c0c0"/>
<rect x="934" y="664" width="1" height="28" fill="#c0c0c0"/>
<rect x="942" y="664" width="1" height="30" fill="#c0c0c0"/>
<rect x="950" y="664" width="1" height="29" fill="#c0c0c0"/>
<rect x="958" y="664" width="1" height="25" fill="#c0c0c0"/>
<rect x="966" y="664" width="1" height="20" fill="#c0c0c0"/>
<rect x="974" y="664" width="1" height="17" fill="#c0c0c0"/>
<rect x="982" y="664" width="1" height="13" fill="#c0c0c0"/>
<rect x="990" y="664" width="1" height="9" fill="#c0c0c0"/>
<rect x="998" y="664" width="1" height="10" fill="#c0c0c0"/>
<rect x="1006" y="664" width="1" height="12" fill="#c0c0c0"/>
<rect x="1014" y="664" width="1" height="17" fill="#c0c0c0"/>
<rect x="1022" y="664" width="1" height="20" fill="#c0c0c0"/>
<rect x="1030" y="664" width="1" height="22" fill="#c0c0c0"/>
<rect x="1038" y="664" width="1" height="24" fill="#c0c0c0"/>
<rect x="1046" y="664" width="1" height="24" fill="#c0c0c0"/>
<rect x="1054" y="664" width="1" height="19" fill="#c0c0c0"/>
<rect x="1062" y="664" width="1" height="13" fill="#c0c0c0"/>
<rect x="1070" y="664" width="1" height="10" fill="#c0c0c0"/>
<rect x="1078" y="664" width="1" height="8" fill="#c0c0c0"/>
<rect x="1086" y="664" width="1" height="6" fill="#c0c0c0"/>
<rect x="1094" y="664" width="1" height="3" fill="#c0c0c0"/>
<rect x="1102" y="664" width="1" height="3" fill="#c0c0c0"/>
<rect x="1110" y="664" width="1" height="4" fill="#c0c0c0"/>
<rect x="1118" y="664" width="1" height="5" fill="#c0c0c0"/>
<rect x="1126" y="664" width="1" height="7" fill="#c0c0c0"/>
<rect x="1134" y="664" width="1" height="13" fill="#c0c0c0"/>
<rect x="1142" y="664" width="1" height="17" fill="#c0c0c0"/>
<rect x="1150" y="664" width="1" height="27" fill="#c0c0c0"/>
<rect x="1158" y="664" width="1" height="34" fill="#c0c0c0"/>
<rect x="1166" y="664" width="1" height="39" fill="#c0c0c0"/>
<rect x="1174" y="664" width="1" height="41" fill="#c0c0c0"/>
<rect x="1182" y="664" width="1" height="43" fill="#c0c0c0"/>
<rect x="1190" y="664" width="1" height="41" fill="#c0c0c0"/>
<rect x="1198" y="664" width="1" height="42" fill="#c0c0c0"/>
<rect x="1206" y="664" width="1" height="41" fill="#c0c0c0"/>
<rect x="1214" y="664" width="1" height="40" fill="#c0c0c0"/>
<rect x="1222" y="664" width="1" height="43" fill="#c0c0c0"/>
<rect x="1230" y="664" width="1" height="48" fill="#c0c0c0"/>
<rect x="1238" y="664" width="1" height="52" fill="#c0c0c0"/>
<rect x="1246" y="664" width="1" height="56" fill="#c0c0c0"/>
<rect x="1254" y="664" width="1" height="63" fill="#c0c0c0"/>
<rect x="1262" y="664" width="1" height="69" fill="#c0c0c0"/>
<rect x="1270" y="664" width="1" height="72" fill="#c0c0c0"/>
<rect x="1278" y="664" width="1" height="75" fill="#c0c0c0"/>
<rect x="1286" y="664" width="1" height="78" fill="#c0c0c0"/>
<rect x="1294" y="664" width="1" height="77" fill="#c0c0c0"/>
<rect x="1302" y="664" width="1" height="76" fill="#c0c0c0"/>
<rect x="1310" y="664" width="1" height="74" fill="#c0c0c0"/>
<rect x="1318" y="664" width="1" height="69" fill="#c0c0c0"/>
<rect x="1326" y="664" width="1" height="64" fill="#c0c0c0"/>
<rect x="1334" y="664" width="1" height="56" fill="#c0c0c0"/>
<rect x="1342" y="664" width="1" height="45" fill="#c0c0c0"/>
<rect x="1350" y="664" width="1" height="34" fill="#c0c0c0"/>
<rect x="1358" y="664" width="1" height="26" fill="#c0c0c0"/>
<rect x="1366" y="664" width="1" height="20" fill="#c0c0c0"/>
<rect x="1374" y="664" width="1" height="15" fill="#c0c0c0"/>
<rect x="1382" y="664" width="1" height="11" fill="#c0c0c0"/>
<rect x="1390" y="664" width="1" height="8" fill="#c0c0c0"/>
<rect x="1398" y="664" width="1" height="3" fill="#c0c0c0"/>
<rect x="1406" y="664" width="1" height="2" fill="#c0c0c0"/>
<rect x="1414" y="664" width="1" height="1" fill="#c0c0c0"/>
<rect x="1422" y="663" width="1" height="2" fill="#c0c0c0"/>
<rect x="1430" y="662" width="1" height="3" fill="#c0c0c0"/>
<rect x="1438" y="661" width="1" height="4" fill="#c0c0c0"/>
<rect x="1446" y="656" width="1" height="9" fill="#c0c0c0"/>
<rect x="1454" y="651" width="1" height="14" fill="#c0c0c0"/>
<polyline points="-2.0,653.0 1.8,653.6 9.0,655.4 16.2,656.5 21.6,658.1 28.8,659.5 37.9,659.7 46.9,659.7 57.7,659.7 63.1,660.4 70.3,661.3 77.5,662.4 88.3,663.7 93.7,665.3 101.0,666.4 108.2,668.5 118.1,673.9 126.2,678.5 135.2,683.0 142.4,687.1 149.6,692.3 158.6,700.1 165.9,705.0 171.3,709.5 178.5,713.2 183.9,716.8 189.3,721.4 195.6,725.7 201.9,729.5 207.3,732.5 213.6,735.4 219.9,737.4 225.3,739.4 230.8,740.6 238.0,740.5 243.4,739.6 249.7,737.4 256.0,734.9 261.4,731.6 266.8,727.7 274.0,721.7 279.4,716.8 285.7,711.3 292.0,705.0 295.4,700.1 301.7,693.8 307.1,687.5 312.5,681.2 318.8,675.7 324.3,671.6 330.6,667.6 336.0,664.6 342.3,660.8 348.6,658.1 354.0,656.3 360.3,654.7 366.6,653.4 372.9,652.3 380.1,651.4 384.6,649.6 390.1,647.4 396.4,645.6 402.7,643.7 408.1,641.7 414.4,639.5 420.7,637.5 427.0,634.8 432.4,632.1 438.7,628.9 445.0,625.8 450.4,623.5 456.8,621.3 463.1,620.2 468.5,618.1 473.9,616.4 479.3,615.4 486.5,613.5 491.9,611.4 497.3,609.6 502.7,608.5 509.0,606.7 515.3,605.4 522.6,604.5 528.9,602.4 535.2,601.3 541.5,599.1 549.6,597.9 558.6,596.4 565.8,595.5 570.3,595.5 576.6,596.8 581.8,597.5 588.1,599.5 594.4,602.2 600.7,605.6 607.0,609.2 612.4,612.1 618.8,616.3 624.2,620.4 630.5,624.5 636.8,628.9 642.2,632.8 648.5,636.1 654.8,639.3 660.2,641.9 666.5,643.5 672.8,644.7 678.3,646.4 684.6,647.8 690.9,649.4 697.2,649.4 706.2,649.4 715.2,649.4 726.0,649.4 733.2,650.5 738.6,650.9 744.1,651.4 750.4,652.5 756.7,653.4 762.1,653.8 768.4,654.5 774.7,655.4 781.9,655.4 785.5,655.6 790.0,656.3 798.1,656.5 805.3,656.5 816.2,656.5 822.5,657.4 828.8,658.4 834.2,659.5 840.5,661.7 846.8,663.7 852.2,665.6 858.5,667.6 863.9,670.2 870.0,672.1 876.3,674.7 881.7,676.3 888.0,678.8 894.3,680.4 900.6,681.7 906.1,683.5 912.4,684.4 918.7,685.3 925.0,686.4 930.4,687.3 936.7,688.4 943.0,689.4 949.3,689.4 954.7,689.4 960.1,689.3 966.5,689.3 972.8,688.4 979.1,687.3 984.5,686.0 990.8,685.1 997.1,683.3 1002.5,682.2 1008.8,681.3 1014.2,680.4 1020.5,679.5 1026.8,679.5 1032.3,679.5 1038.6,679.5 1044.9,680.4 1050.3,680.4 1056.6,680.4 1062.9,681.3 1068.3,681.3 1074.6,680.4 1080.0,680.3 1086.3,679.5 1092.6,677.4 1099.0,676.3 1104.4,674.7 1110.7,673.6 1117.0,671.6 1122.4,670.3 1128.7,670.3 1134.1,670.5 1140.4,671.4 1146.7,672.3 1152.1,674.3 1158.4,676.3 1163.6,678.8 1169.9,681.7 1176.2,684.8 1182.5,688.0 1188.8,691.1 1195.2,694.3 1200.6,696.8 1206.9,699.4 1213.2,701.5 1218.6,702.4 1224.0,703.7 1230.3,705.5 1237.5,706.6 1242.9,707.3 1248.3,708.4 1254.6,710.4 1261.0,713.2 1267.3,715.8 1272.7,718.1 1279.0,721.0 1285.3,724.4 1290.7,727.3 1296.1,730.2 1302.4,732.2 1308.7,734.3 1315.0,735.6 1320.4,736.3 1326.8,736.3 1332.2,734.7 1338.5,732.5 1344.8,729.8 1351.1,726.6 1357.4,722.6 1362.8,718.1 1369.1,712.7 1374.5,708.2 1380.8,703.1 1387.1,697.4 1392.6,692.9 1398.9,687.5 1405.2,683.0 1411.5,678.4 1416.9,674.5 1423.2,671.8 1428.6,669.8 1434.9,667.3 1440.3,665.5 1446.6,664.2 1452.0,662.2 1454.8,660.8" fill="none" stroke="#ff0000" stroke-width="1" stroke-dasharray="3,3"/>
</g>
<g clip-path="url(#crsi)" shape-rendering="crispEdges">
<line x1="3" y1="790.5" x2="1648" y2="790.5" stroke="#c0c0c0" stroke-width="1" stroke-dasharray="3,3"/>
<line x1="3" y1="841.5" x2="1648" y2="841.5" stroke="#c0c0c0" stroke-width="1" stroke-dasharray="3,3"/>
<line x1="3" y1="902.5" x2="1648" y2="902.5" stroke="#c0c0c0" stroke-width="1" stroke-dasharray="3,3"/>
<polyline points="-2.0,836.5 6.5,835.3 14.5,836.2 22.5,844.9 30.5,851.1 38.5,831.5 46.5,840.0 54.5,848.1 62.5,846.2 70.5,841.9 78.5,852.3 86.5,851.1 94.5,859.8 102.5,864.2 110.5,865.2 118.5,867.2 126.5,875.9 134.5,877.6 142.5,883.3 150.5,887.3 158.5,886.3 166.5,885.3 174.5,891.5 182.5,893.2 190.5,895.2 198.5,885.8 206.5,882.1 214.5,885.3 222.5,887.3 230.5,880.3 238.5,844.9 246.5,837.2 254.5,839.0 262.5,840.5 270.5,830.0 278.5,821.4 286.5,831.3 294.5,826.3 302.5,824.1 310.5,828.8 318.5,836.2 326.5,838.5 334.5,834.3 342.5,832.3 350.5,831.3 358.5,835.5 366.5,832.0 374.5,818.9 382.5,810.2 390.5,813.4 398.5,812.2 406.5,812.2 414.5,829.3 422.5,827.1 430.5,806.0 438.5,806.0 446.5,807.5 454.5,811.0 462.5,812.2 470.5,810.5 478.5,809.2 486.5,803.5 494.5,804.5 502.5,799.6 510.5,797.1 518.5,792.4 526.5,792.1 534.5,793.4 542.5,793.4 550.5,809.2 558.5,802.5 566.5,809.2 574.5,831.8 582.5,841.2 590.5,839.2 598.5,838.2 606.5,830.5 614.5,839.2 622.5,845.4 630.5,842.4 638.5,842.4 646.5,841.2 654.5,832.5 662.5,824.3 670.5,838.0 678.5,832.3 686.5,834.3 694.5,830.5 702.5,823.6 710.5,831.8 718.5,839.5 726.5,850.4 734.5,849.4 742.5,848.1 750.5,832.5 758.5,832.3 766.5,831.0 774.5,829.3 782.5,832.0 790.5,835.3 798.5,836.2 806.5,838.2 814.5,862.3 822.5,860.3 830.5,863.5 838.5,862.3 846.5,863.5 854.5,856.6 862.5,867.2 870.5,869.2 878.5,869.2 886.5,868.0 894.5,864.2 902.5,856.6 910.5,868.0 918.5,869.2 926.5,869.2 934.5,872.2 942.5,877.1 950.5,866.0 958.5,840.7 966.5,837.2 974.5,840.2 982.5,835.7 990.5,833.3 998.5,850.6 1006.5,859.3 1014.5,869.2 1022.5,866.5 1030.5,864.5 1038.5,866.5 1046.5,859.8 1054.5,837.0 1062.5,831.3 1070.5,835.0 1078.5,840.2 1086.5,839.2 1094.5,833.3 1102.5,843.2 1110.5,848.1 1118.5,847.4 1126.5,859.0 1134.5,866.0 1142.5,869.4 1150.5,884.6 1158.5,883.3 1166.5,882.3 1174.5,873.4 1182.5,877.1 1190.5,859.5 1198.5,867.2 1206.5,861.3 1214.5,866.0 1222.5,872.9 1230.5,878.9 1238.5,882.1 1246.5,883.8 1254.5,891.2 1262.5,892.5 1270.5,892.5 1278.5,894.5 1286.5,895.7 1294.5,885.3 1302.5,886.5 1310.5,884.6 1318.5,867.2 1326.5,867.2 1334.5,849.9 1342.5,833.0 1350.5,829.1 1358.5,831.3 1366.5,834.3 1374.5,834.3 1382.5,832.0 1390.5,836.7 1398.5,828.1 1406.5,831.8 1414.5,835.7 1422.5,835.3 1430.5,838.5 1438.5,833.8 1446.5,816.4 1454.5,814.2" fill="none" stroke="#1e90ff" stroke-width="1" />
</g>
<g shape-rendering="crispEdges" fill="#000">
<rect x="0" y="27" width="1649" height="1"/>
<rect x="1648" y="27" width="1" height="902"/>
<rect x="0" y="580" width="1649" height="1"/>
<rect x="0" y="582" width="1649" height="1"/>
<rect x="0" y="752" width="1649" height="1"/>
<rect x="0" y="754" width="1649" height="1"/>
<rect x="0" y="928" width="1649" height="1"/>
<rect x="1648" y="581" width="1" height="1" fill="#fff"/>
<rect x="1648" y="753" width="1" height="1" fill="#fff"/>
<rect x="1649" y="49" width="3" height="1"/>
<rect x="1649" y="82" width="3" height="1"/>
<rect x="1649" y="115" width="3" height="1"/>
<rect x="1649" y="148" width="3" height="1"/>
<rect x="1649" y="181" width="3" height="1"/>
<rect x="1649" y="214" width="3" height="1"/>
<rect x="1649" y="247" width="3" height="1"/>
<rect x="1649" y="280" width="3" height="1"/>
<rect x="1649" y="313" width="3" height="1"/>
<rect x="1649" y="346" width="3" height="1"/>
<rect x="1649" y="379" width="3" height="1"/>
<rect x="1649" y="412" width="3" height="1"/>
<rect x="1649" y="445" width="3" height="1"/>
<rect x="1649" y="478" width="3" height="1"/>
<rect x="1649" y="511" width="3" height="1"/>
<rect x="1649" y="544" width="3" height="1"/>
<rect x="1649" y="577" width="3" height="1"/>
<rect x="1649" y="584" width="2" height="1"/>
<rect x="1649" y="664" width="2" height="1"/>
<rect x="1649" y="751" width="2" height="1"/>
<rect x="1649" y="755" width="2" height="1"/>
<rect x="1649" y="927" width="2" height="1"/>
<rect x="54" y="929" width="1" height="3"/>
<rect x="118" y="929" width="1" height="3"/>
<rect x="182" y="929" width="1" height="3"/>
<rect x="246" y="929" width="1" height="3"/>
<rect x="310" y="929" width="1" height="3"/>
<rect x="374" y="929" width="1" height="3"/>
<rect x="438" y="929" width="1" height="3"/>
<rect x="502" y="929" width="1" height="3"/>
<rect x="566" y="929" width="1" height="3"/>
<rect x="630" y="929" width="1" height="3"/>
<rect x="694" y="929" width="1" height="3"/>
<rect x="758" y="929" width="1" height="3"/>
<rect x="822" y="929" width="1" height="3"/>
<rect x="886" y="929" width="1" height="3"/>
<rect x="950" y="929" width="1" height="3"/>
<rect x="1014" y="929" width="1" height="3"/>
<rect x="1078" y="929" width="1" height="3"/>
<rect x="1142" y="929" width="1" height="3"/>
<rect x="1206" y="929" width="1" height="3"/>
<rect x="1270" y="929" width="1" height="3"/>
<rect x="1334" y="929" width="1" height="3"/>
<rect x="1398" y="929" width="1" height="3"/>
</g>
<g font-size="9.33px" fill="#000">
<text x="1654.6" y="52.8" textLength="31.8" lengthAdjust="spacingAndGlyphs">1.39865</text>
<text x="1654.6" y="85.8" textLength="31.8" lengthAdjust="spacingAndGlyphs">1.39600</text>
<text x="1654.6" y="118.8" textLength="31.8" lengthAdjust="spacingAndGlyphs">1.39335</text>
<text x="1654.6" y="151.8" textLength="31.8" lengthAdjust="spacingAndGlyphs">1.39070</text>
<text x="1654.6" y="184.8" textLength="31.8" lengthAdjust="spacingAndGlyphs">1.38800</text>
<text x="1654.6" y="217.8" textLength="31.8" lengthAdjust="spacingAndGlyphs">1.38535</text>
<text x="1654.6" y="250.8" textLength="31.8" lengthAdjust="spacingAndGlyphs">1.38270</text>
<text x="1654.6" y="283.8" textLength="31.8" lengthAdjust="spacingAndGlyphs">1.38005</text>
<text x="1654.6" y="316.8" textLength="31.8" lengthAdjust="spacingAndGlyphs">1.37740</text>
<text x="1654.6" y="349.8" textLength="31.8" lengthAdjust="spacingAndGlyphs">1.37475</text>
<text x="1654.6" y="382.8" textLength="31.8" lengthAdjust="spacingAndGlyphs">1.37210</text>
<text x="1654.6" y="415.8" textLength="31.8" lengthAdjust="spacingAndGlyphs">1.36945</text>
<text x="1654.6" y="448.8" textLength="31.8" lengthAdjust="spacingAndGlyphs">1.36680</text>
<text x="1654.6" y="481.8" textLength="31.8" lengthAdjust="spacingAndGlyphs">1.36415</text>
<text x="1654.6" y="514.8" textLength="31.8" lengthAdjust="spacingAndGlyphs">1.36150</text>
<text x="1654.6" y="547.8" textLength="31.8" lengthAdjust="spacingAndGlyphs">1.35885</text>
<text x="1654.6" y="580.8" textLength="31.8" lengthAdjust="spacingAndGlyphs">1.35620</text>
<text x="1652.4" y="592.8" textLength="37.2" lengthAdjust="spacingAndGlyphs">0.005455</text>
<text x="1651.8" y="667.6">0.00</text>
<text x="1652.2" y="748.7" textLength="40.4" lengthAdjust="spacingAndGlyphs">-0.005938</text>
<text x="1651.2" y="764.6">100</text>
<text x="1651.2" y="793.8">80</text>
<text x="1651.2" y="844.8">50</text>
<text x="1651.2" y="905.8">15</text>
<text x="1651.2" y="924.6">0</text>
<text x="-11" y="940.5">14 Jul 2021</text>
<text x="53" y="940.5">15 Jul 16:00</text>
<text x="117" y="940.5">19 Jul 00:00</text>
<text x="181" y="940.5">20 Jul 08:00</text>
<text x="245" y="940.5">21 Jul 16:00</text>
<text x="309" y="940.5">23 Jul 00:00</text>
<text x="373" y="940.5">26 Jul 08:00</text>
<text x="437" y="940.5">27 Jul 16:00</text>
<text x="501" y="940.5">29 Jul 00:00</text>
<text x="565" y="940.5">30 Jul 08:00</text>
<text x="629" y="940.5">2 Aug 16:00</text>
<text x="693" y="940.5">4 Aug 00:00</text>
<text x="757" y="940.5">5 Aug 08:00</text>
<text x="821" y="940.5">6 Aug 16:00</text>
<text x="885" y="940.5">10 Aug 00:00</text>
<text x="949" y="940.5">11 Aug 08:00</text>
<text x="1013" y="940.5">12 Aug 16:00</text>
<text x="1077" y="940.5">16 Aug 00:00</text>
<text x="1141" y="940.5">17 Aug 08:00</text>
<text x="1205" y="940.5">18 Aug 16:00</text>
<text x="1269" y="940.5">20 Aug 00:00</text>
<text x="1333" y="940.5">23 Aug 08:00</text>
<text x="1397" y="940.5">24 Aug 16:00</text>
<text x="5" y="38.7">GBPUSD-,H4&#160; 1.37593 1.37642 1.37570 1.37628</text>
<text x="-6" y="594.5">MACD(12,26,9) 0.000922 0.000184</text>
<text x="-6.5" y="767">RSI(14) 65.7046</text>
</g>
<g shape-rendering="crispEdges">
<rect x="1650" y="283" width="41" height="11" fill="#ff4500"/>
<rect x="1643.5" y="287.5" width="4" height="4" fill="#fff" stroke="#ff4500" stroke-width="1"/>
<rect x="1650" y="304" width="41" height="11" fill="#ff0000"/>
<rect x="1643.5" y="308.5" width="4" height="4" fill="#fff" stroke="#ff0000" stroke-width="1"/>
<rect x="1650" y="321" width="41" height="11" fill="#000000"/>
<rect x="1650" y="335" width="41" height="11" fill="#32cd32"/>
<rect x="1643.5" y="339.5" width="4" height="4" fill="#fff" stroke="#32cd32" stroke-width="1"/>
<rect x="1650" y="357" width="41" height="11" fill="#0000ff"/>
<rect x="1643.5" y="361.5" width="4" height="4" fill="#fff" stroke="#0000ff" stroke-width="1"/>
<rect x="1650" y="382" width="41" height="11" fill="#0000ff"/>
<rect x="1643.5" y="386.5" width="4" height="4" fill="#fff" stroke="#0000ff" stroke-width="1"/>
</g>
<g font-size="9.33px" fill="#fff">
<text x="1654.6" y="291.9" textLength="31.8" lengthAdjust="spacingAndGlyphs">1.37935</text>
<text x="1654.6" y="312.9" textLength="31.8" lengthAdjust="spacingAndGlyphs">1.37767</text>
<text x="1654.6" y="329.9" textLength="31.8" lengthAdjust="spacingAndGlyphs">1.37628</text>
<text x="1654.6" y="343.9" textLength="31.8" lengthAdjust="spacingAndGlyphs">1.37518</text>
<text x="1654.6" y="365.9" textLength="31.8" lengthAdjust="spacingAndGlyphs">1.37342</text>
<text x="1654.6" y="390.9" textLength="31.8" lengthAdjust="spacingAndGlyphs">1.37141</text>
</g>
<line x1="1282.0" y1="536.0" x2="1372.8" y2="354.8" stroke="#ff0000" stroke-width="3.2" stroke-linecap="round" marker-end="url(#ah)"/>
<line x1="1374.0" y1="352.4" x2="1437.8" y2="400.4" stroke="#ff0000" stroke-width="3.2" stroke-linecap="round" marker-end="url(#ah)"/>
<line x1="1440.0" y1="402.0" x2="1481.4" y2="308.7" stroke="#ff0000" stroke-width="3.2" stroke-linecap="round" marker-end="url(#ah)"/>
<line x1="1323.2" y1="734.0" x2="1454.4" y2="642.6" stroke="#ff0000" stroke-width="3.2" stroke-linecap="round" marker-end="url(#ah)"/>
<line x1="1350.7" y1="843.7" x2="1439.1" y2="833.3" stroke="#ff0000" stroke-width="3.2" stroke-linecap="round" marker-end="url(#ah)"/>
<line x1="1441.8" y1="833.0" x2="1470.8" y2="806.3" stroke="#ff0000" stroke-width="3.2" stroke-linecap="round" marker-end="url(#ah)"/>
<rect x="1395" y="338" width="107" height="10" fill="#00ff00" shape-rendering="crispEdges"/>
<text x="1472" y="372.8" font-size="21px" fill="#00f000" stroke="#ffffff" stroke-width="0.2" textLength="106.5" lengthAdjust="spacingAndGlyphs" style="font-family:'Noto Serif CJK SC','Noto Sans CJK SC',serif">多空转折点</text>
<path d="M1460,28 L1469.6,28 L1464.8,33 z" fill="#b8b8b8"/>
<g id="toolbar">
<rect x="0" y="0" width="1695" height="23" fill="#f0f0f0" shape-rendering="crispEdges"/>
<g shape-rendering="crispEdges"><rect x="0" y="22" width="1695" height="1" fill="#e3e3e3"/><rect x="0" y="23" width="1695" height="1" fill="#a9a9a9"/><rect x="0" y="24" width="1695" height="1" fill="#858585"/><rect x="0" y="25" width="1695" height="1" fill="#f4f4f4"/></g>
<g shape-rendering="crispEdges" fill="#a0a0a0">
<rect x="9" y="1" width="1" height="20"/>
<rect x="245" y="1" width="1" height="20"/>
<rect x="283" y="1" width="1" height="20"/>
<rect x="340" y="1" width="1" height="20"/>
<rect x="430" y="1" width="1" height="20"/>
<rect x="435" y="1" width="1" height="20"/>
<rect x="463" y="1" width="1" height="20"/>
<rect x="492" y="1" width="1" height="20"/>
<rect x="613" y="1" width="1" height="20"/>
<rect x="623" y="1" width="1" height="20"/>
<rect x="680" y="1" width="1" height="20"/>
<rect x="919" y="1" width="1" height="20"/>
<rect x="1069" y="1" width="1" height="20"/>
<rect x="1180" y="1" width="1" height="20"/>
</g>
<g shape-rendering="crispEdges" fill="#fbfbfb">
<rect x="10" y="1" width="1" height="20"/>
<rect x="246" y="1" width="1" height="20"/>
<rect x="284" y="1" width="1" height="20"/>
<rect x="341" y="1" width="1" height="20"/>
<rect x="431" y="1" width="1" height="20"/>
<rect x="436" y="1" width="1" height="20"/>
<rect x="464" y="1" width="1" height="20"/>
<rect x="493" y="1" width="1" height="20"/>
<rect x="614" y="1" width="1" height="20"/>
<rect x="624" y="1" width="1" height="20"/>
<rect x="681" y="1" width="1" height="20"/>
<rect x="920" y="1" width="1" height="20"/>
<rect x="1070" y="1" width="1" height="20"/>
<rect x="1181" y="1" width="1" height="20"/>
</g>
<g shape-rendering="crispEdges" fill="#b8b8b8">
<rect x="249" y="2" width="3" height="1"/>
<rect x="249" y="4" width="3" height="1"/>
<rect x="249" y="6" width="3" height="1"/>
<rect x="249" y="8" width="3" height="1"/>
<rect x="249" y="10" width="3" height="1"/>
<rect x="249" y="12" width="3" height="1"/>
<rect x="249" y="14" width="3" height="1"/>
<rect x="249" y="16" width="3" height="1"/>
<rect x="249" y="18" width="3" height="1"/>
<rect x="617" y="2" width="3" height="1"/>
<rect x="617" y="4" width="3" height="1"/>
<rect x="617" y="6" width="3" height="1"/>
<rect x="617" y="8" width="3" height="1"/>
<rect x="617" y="10" width="3" height="1"/>
<rect x="617" y="12" width="3" height="1"/>
<rect x="617" y="14" width="3" height="1"/>
<rect x="617" y="16" width="3" height="1"/>
<rect x="617" y="18" width="3" height="1"/>
<rect x="923" y="2" width="3" height="1"/>
<rect x="923" y="4" width="3" height="1"/>
<rect x="923" y="6" width="3" height="1"/>
<rect x="923" y="8" width="3" height="1"/>
<rect x="923" y="10" width="3" height="1"/>
<rect x="923" y="12" width="3" height="1"/>
<rect x="923" y="14" width="3" height="1"/>
<rect x="923" y="16" width="3" height="1"/>
<rect x="923" y="18" width="3" height="1"/>
</g>
<g shape-rendering="crispEdges" fill="#f9f9f9">
<rect x="284" y="0" width="25" height="21"/>
<rect x="283" y="21" width="27" height="1" fill="#ffffff"/>
<rect x="436" y="0" width="25" height="21"/>
<rect x="435" y="21" width="27" height="1" fill="#ffffff"/>
<rect x="464" y="0" width="25" height="21"/>
<rect x="463" y="21" width="27" height="1" fill="#ffffff"/>
<rect x="624" y="0" width="25" height="21"/>
<rect x="623" y="21" width="27" height="1" fill="#ffffff"/>
<rect x="1070" y="0" width="25" height="21"/>
<rect x="1069" y="21" width="27" height="1" fill="#ffffff"/>
</g>
<path d="M0,17.5 L1.6,19 L0,20.6 z" fill="#c8900a"/>
<path d="M19.8,3.8 h7.2 l3.2,3.2 v9.2 h-10.4 z" fill="#fff" stroke="#6a6a6a" stroke-width="1"/>
<path d="M27,3.8 v3.2 h3.2" fill="#e8e8e8" stroke="#6a6a6a" stroke-width="0.8"/>
<g stroke="#909090" stroke-width="1"><line x1="21.5" y1="6.5" x2="24" y2="6.5"/><line x1="21.5" y1="9.5" x2="26.5" y2="9.5"/><line x1="21.5" y1="11.5" x2="25" y2="11.5"/></g>
<path d="M27.3,9.8 h3.6 v3.6 h3.8 v3.4 h-3.8 v3.6 h-3.6 v-3.6 h-3.8 v-3.4 h3.8 z" fill="#22d822" stroke="#0d8a0d" stroke-width="0.9"/>
<text x="37.8" y="14.2" font-size="12px" fill="#000">新订单</text>
<path d="M91.6,4.2 L102,12 L94.4,18.8 L86,13.6 z" fill="url(#gbook)" stroke="#a8770a" stroke-width="0.9"/>
<path d="M86,13.7 L94.4,18.8 L102,12.2 L101.9,13.6 L94.5,19.8 L86.3,14.9 z" fill="#b87f0a"/>
<path d="M91.6,5.4 L99.8,11.6 L98.6,12.8 L90.2,7.2 z" fill="#fae77a" opacity="0.7"/>
<path d="M116.4,4.6 L119.6,3.2 L127,3.6 L127,12 L116.4,12 z" fill="#1e9cf8" stroke="#1878d8" stroke-width="0.6"/>
<path d="M116.4,4.6 L119.8,5.4 L119.8,12 L116.4,12 z" fill="#0a86ee"/>
<path d="M119.8,5.4 L127,4.2" stroke="#bfe4ff" stroke-width="0.7" fill="none"/>
<rect x="120.8" y="6.8" width="5.4" height="2.2" fill="#e4f3ff"/><rect x="121.4" y="7.5" width="4" height="0.8" fill="#3aa2f4"/>
<path d="M116.4,18.4 a2.6,2.6 0 0 1 0.2,-5.2 a3.4,3.4 0 0 1 6.2,-1.2 a2.8,2.8 0 0 1 4.4,1.6 a2.5,2.5 0 0 1 0.4,4.8 z" fill="url(#gcloud)" stroke="#5a74ac" stroke-width="0.9"/>
<circle cx="149.9" cy="10.8" r="7.5" fill="#f2f5fc" stroke="#9db4e4" stroke-width="1"/>
<circle cx="149.9" cy="10.8" r="5.3" fill="none" stroke="#6a8edc" stroke-width="1" opacity="0.75"/>
<circle cx="149.9" cy="10.8" r="3.2" fill="none" stroke="#4a74d0" stroke-width="1" opacity="0.85"/>
<path d="M149.9,10.8 L149.9,18.8 A8,8 0 0 0 157.6,8.6 z" fill="#6cbc6c" opacity="0.6"/>
<circle cx="149.9" cy="10.4" r="1.7" fill="#2456c8"/>
<rect x="149.5" y="11" width="1.2" height="7.8" fill="#22a022"/>
<path d="M169.6,10 L184.8,9.4 L179.4,18.4 Q177.8,19.2 176.6,18 z" fill="url(#gcone)" stroke="#c8a018" stroke-width="0.7"/>
<ellipse cx="177" cy="8" rx="8" ry="2.5" fill="#5aa6dc" stroke="#2f7eb6" stroke-width="0.8"/>
<path d="M172.8,7.4 Q173,3.2 176.8,3.2 Q180.6,3.2 180.9,7.2 Q177,8.6 172.8,7.4 z" fill="#74bce8" stroke="#2f7eb6" stroke-width="0.7"/>
<circle cx="181.5" cy="14.6" r="4.1" fill="#e22a10" stroke="#b81c08" stroke-width="0.6"/>
<rect x="180" y="13.1" width="3.1" height="3" fill="#fff"/>
<text x="190.4" y="14.2" font-size="12px" fill="#000">自动交易</text>
<g stroke="#555" stroke-width="1.2" fill="none"><path d="M263.5,5.5 V18.5"/><path d="M261.0,16.5 H274.0"/></g>
<path d="M263.5,4 l-2,3 h4 z M275.3,16.5 l-3,-2 v4 z" fill="#555"/>
<path d="M269.5,6.1 V14.6 M269.5,7.4 H272 M267,13.5 H269.5" stroke="#0f8a1a" stroke-width="1.2" fill="none"/>
<g stroke="#555" stroke-width="1.2" fill="none"><path d="M291.5,5.5 V18.5"/><path d="M289.0,16.5 H302.0"/></g>
<path d="M291.5,4 l-2,3 h4 z M303.3,16.5 l-3,-2 v4 z" fill="#555"/>
<rect x="297" y="3" width="1.2" height="12.5" fill="#157a20"/><rect x="295.3" y="5.2" width="4.6" height="8" fill="#2fd03f" stroke="#157a20" stroke-width="0.9"/>
<g stroke="#555" stroke-width="1.2" fill="none"><path d="M319.5,5.5 V18.5"/><path d="M317.0,16.5 H330.0"/></g>
<path d="M319.5,4 l-2,3 h4 z M331.3,16.5 l-3,-2 v4 z" fill="#555"/>
<path d="M318.2,13.7 Q321.6,8.9 324.1,8.4 Q326.4,8.4 329.8,12.3" stroke="#1f8f26" stroke-width="1.2" fill="none"/>
<line x1="359.0" y1="13" x2="364.0" y2="18.2" stroke="#c79a18" stroke-width="2.6" stroke-linecap="round"/>
<circle cx="355.0" cy="9" r="5.4" fill="#cfe6fb" stroke="#3b7fd0" stroke-width="1.5"/>
<line x1="352.0" y1="9" x2="358.0" y2="9" stroke="#2c6cc4" stroke-width="1.7"/>
<line x1="355.0" y1="6" x2="355.0" y2="12" stroke="#2c6cc4" stroke-width="1.7"/>
<line x1="387.0" y1="13" x2="392.0" y2="18.2" stroke="#c79a18" stroke-width="2.6" stroke-linecap="round"/>
<circle cx="383.0" cy="9" r="5.4" fill="#cfe6fb" stroke="#3b7fd0" stroke-width="1.5"/>
<line x1="380.0" y1="9" x2="386.0" y2="9" stroke="#2c6cc4" stroke-width="1.7"/>
<rect x="405.3" y="3.2" width="7.6" height="7.6" fill="#5aa832" stroke="#3d8a1c" stroke-width="0.6"/>
<rect x="406.5" y="5.8" width="5.2" height="4" fill="#eef4ff"/>
<rect x="407.4" y="7.4" width="3.4" height="0.8" fill="#5aa832"/>
<rect x="413.3" y="3.2" width="7.6" height="7.6" fill="#2d62d8" stroke="#1b46b0" stroke-width="0.6"/>
<rect x="414.5" y="5.8" width="5.2" height="4" fill="#eef4ff"/>
<rect x="415.4" y="7.4" width="3.4" height="0.8" fill="#2d62d8"/>
<rect x="405.3" y="11.0" width="7.6" height="7.6" fill="#2d62d8" stroke="#1b46b0" stroke-width="0.6"/>
<rect x="406.5" y="13.6" width="5.2" height="4" fill="#eef4ff"/>
<rect x="407.4" y="15.2" width="3.4" height="0.8" fill="#2d62d8"/>
<rect x="413.3" y="11.0" width="7.6" height="7.6" fill="#5aa832" stroke="#3d8a1c" stroke-width="0.6"/>
<rect x="414.5" y="13.6" width="5.2" height="4" fill="#eef4ff"/>
<rect x="415.4" y="15.2" width="3.4" height="0.8" fill="#5aa832"/>
<g stroke="#555" stroke-width="1.2" fill="none"><path d="M443.5,5.5 V18.5"/><path d="M441.0,16.5 H454.0"/></g>
<path d="M443.5,4 l-2,3 h4 z M455.3,16.5 l-3,-2 v4 z" fill="#555"/>
<path d="M448.2,7.2 L452,10.5 L448.2,13.8 z" fill="#58e868" stroke="#1a9a2a" stroke-width="0.9"/>
<g stroke="#555" stroke-width="1.2" fill="none"><path d="M471.5,5.5 V18.5"/><path d="M469.0,16.5 H482.0"/></g>
<path d="M471.5,4 l-2,3 h4 z M483.3,16.5 l-3,-2 v4 z" fill="#555"/>
<rect x="476.9" y="5" width="1.2" height="9.8" fill="#1a6a9a"/>
<path d="M483,10.5 H479 M480.6,8.4 L478.6,10.5 L480.6,12.6" stroke="#d8500c" stroke-width="1.2" fill="none"/>
<path d="M502.8,4 h6.4 l2.6,2.6 v9.2 h-9 z" fill="#fff" stroke="#6a6a6a" stroke-width="1"/>
<path d="M505.6,6.6 q-1.6,0 -1.6,1.6 v3 q0,1.4 1.6,1.4" stroke="#909090" stroke-width="0.9" fill="none"/>
<path d="M510,9.5 h3.6 v3.9 h4 v3.4 h-4 v3.9 h-3.6 v-3.9 h-4 v-3.4 h4 z" fill="#2ee02e" stroke="#0d8a0d" stroke-width="0.9"/>
<path d="M524.1,10 h5.4 l-2.7,3 z" fill="#000"/>
<circle cx="548" cy="11" r="7.4" fill="#2f80e4" stroke="#1a56b4" stroke-width="1"/>
<circle cx="548" cy="11" r="5" fill="#f4f8ff"/>
<path d="M547.6,7.5 V11.4 H550.6" stroke="#444" stroke-width="1" fill="none"/>
<path d="M563.2,10 h5.4 l-2.7,3 z" fill="#000"/>
<rect x="579.3" y="4" width="15.4" height="13.8" fill="#fdfdfd" stroke="#3b73c8" stroke-width="1"/>
<rect x="579.3" y="4" width="15.4" height="2.2" fill="#5a90dc"/>
<line x1="580" y1="11.6" x2="594" y2="11.6" stroke="#8aa6d8" stroke-width="0.8"/>
<path d="M581.5,9.8 l2.6,-1 2.4,0.6 2.6,-1.2 2.6,0.2" stroke="#b02a18" stroke-width="1.2" fill="none"/>
<path d="M581.5,15.4 l2.6,-0.6 2.4,-1.2 2.6,1.4 2.6,-1.2" stroke="#1f9a2f" stroke-width="1.2" fill="none"/>
<path d="M601.7,10 h5.4 l-2.7,3 z" fill="#000"/>
<path d="M630.8,4.2 L630.8,15.6 L633.6,13.2 L636,18.2 L638,17.3 L635.7,12.4 L639.4,12.2 z" fill="#444"/>
<g stroke="#444" stroke-width="1" shape-rendering="crispEdges"><line x1="663.5" y1="4" x2="663.5" y2="10"/><line x1="663.5" y1="13" x2="663.5" y2="19"/><line x1="656" y1="11.5" x2="662" y2="11.5"/><line x1="665" y1="11.5" x2="671" y2="11.5"/></g>
<g stroke="#444" stroke-width="1" shape-rendering="crispEdges"><line x1="697.5" y1="5" x2="697.5" y2="18"/><line x1="720" y1="11.5" x2="732" y2="11.5"/></g>
<line x1="747.8" y1="17.8" x2="760" y2="6" stroke="#444" stroke-width="1.1"/>
<g stroke="#3c3c3c" stroke-width="1.1"><line x1="774.5" y1="13" x2="786" y2="4.5"/><line x1="776" y1="17" x2="787.5" y2="8.5"/><line x1="777.5" y1="10.8" x2="779" y2="14.8"/><line x1="780.5" y1="8.6" x2="782" y2="12.6"/><line x1="783.5" y1="6.4" x2="785" y2="10.4"/><line x1="786.5" y1="3" x2="786.5" y2="9"/><line x1="776" y1="12" x2="776" y2="18"/></g>
<text x="784.6" y="20" font-size="6.5px" font-weight="bold" fill="#444">E</text>
<g stroke="#555" stroke-width="1" stroke-dasharray="1,1" shape-rendering="crispEdges"><line x1="803" y1="4.5" x2="816" y2="4.5"/><line x1="803" y1="7.5" x2="816" y2="7.5"/><line x1="803" y1="11.5" x2="816" y2="11.5"/><line x1="803" y1="15.5" x2="812" y2="15.5"/></g>
<text x="812.4" y="20" font-size="6.5px" font-weight="bold" fill="#444">F</text>
<text x="833" y="15.6" font-size="11.5px" fill="#444">A</text>
<rect x="859.5" y="4.5" width="12" height="13" fill="none" stroke="#555" stroke-width="1" stroke-dasharray="1,1" shape-rendering="crispEdges"/>
<text x="861.6" y="16" font-size="11.5px" fill="#444">T</text>
<path d="M890.5,3.6 l3.2,3.2 -3.2,3.2 -3.2,-3.2 z" fill="#444"/>
<path d="M897.6,11.4 l3.4,3.2 -3.4,3.2 -3.4,-3.2 z" fill="#444"/>
<path d="M888.6,11.8 l2.2,2.6 4,-4.6" stroke="#444" stroke-width="1.3" fill="none"/>
<path d="M907.5,10 h5.4 l-2.7,3 z" fill="#000"/>
<g font-size="9.6px" fill="#3c3c3c">
<text x="934.4" y="14.9">M1</text>
<text x="962.5" y="14.9">M5</text>
<text x="988.4" y="14.9">M15</text>
<text x="1016.5" y="14.9">M30</text>
<text x="1047.2" y="14.9">H1</text>
<text x="1074.1" y="14.9">H4</text>
<text x="1103.3" y="14.9">D1</text>
<text x="1131.2" y="14.9">W1</text>
<text x="1157.5" y="14.9">MN</text>
</g>
<circle cx="1650" cy="9" r="3.7" fill="#f6f9ff" stroke="#2c5fc0" stroke-width="1.5"/>
<line x1="1647.2" y1="11.9" x2="1643" y2="15.6" stroke="#2c5fc0" stroke-width="2.2" stroke-linecap="round"/>
<path d="M1667.4,12.6 q0,-4 5.6,-4 q5.6,0 5.6,4 q0,4 -5.6,4 l-2.6,2.8 l0.2,-3 q-3.2,-0.8 -3.2,-3.8 z" fill="#f4f4f4" stroke="#b4b4b4" stroke-width="0.9"/>
<circle cx="1681" cy="8.6" r="8.6" fill="url(#gred)"/>
<text x="1677.2" y="12.9" font-size="11.8px" fill="#fff">1</text>
</g>
<g id="panel">
<rect x="0" y="47" width="212" height="57" fill="#fff" shape-rendering="crispEdges"/>
<rect x="0" y="47" width="45" height="25" fill="url(#gsell)" shape-rendering="crispEdges"/>
<rect x="160" y="47" width="52" height="25" fill="url(#gsell)" shape-rendering="crispEdges"/>
<rect x="0" y="71" width="102" height="33" fill="url(#gpx)" shape-rendering="crispEdges"/>
<rect x="104" y="71" width="108" height="33" fill="url(#gpx)" shape-rendering="crispEdges"/>
<rect x="0" y="47" width="45" height="1" fill="#2222cc" shape-rendering="crispEdges"/><rect x="160" y="47" width="52" height="1" fill="#2222cc" shape-rendering="crispEdges"/>
<rect x="0" y="71" width="41" height="1" fill="#7070f0" shape-rendering="crispEdges"/>
<rect x="164" y="71" width="44" height="1" fill="#7070f0" shape-rendering="crispEdges"/>
<rect x="47.5" y="47.5" width="110" height="21" fill="#fff" stroke="#a8a8a8" stroke-width="1" shape-rendering="crispEdges"/>
<rect x="48.5" y="48.5" width="19" height="18" fill="url(#gbtn)" stroke="#bdbdbd" stroke-width="1" shape-rendering="crispEdges"/>
<rect x="137.5" y="48.5" width="19" height="18" fill="url(#gbtn)" stroke="#bdbdbd" stroke-width="1" shape-rendering="crispEdges"/>
<rect x="68" y="48" width="1" height="20" fill="#a8a8a8" shape-rendering="crispEdges"/><rect x="136" y="48" width="1" height="20" fill="#a8a8a8" shape-rendering="crispEdges"/>
<path d="M54.8,56.2 h5.2 l-2.6,3 z" fill="#4a60b8"/>
<path d="M144,59 h5.2 l-2.6,-3 z" fill="#4a60b8"/>
<text x="132.8" y="62" font-size="12px" fill="#000" text-anchor="end">1.00</text>
<text x="5.8" y="62.6" font-size="11.2px" fill="#fff" textLength="25" lengthAdjust="spacingAndGlyphs">SELL</text>
<text x="173.5" y="62.9" font-size="11.2px" fill="#fff" textLength="23.4" lengthAdjust="spacingAndGlyphs">BUY</text>
<text x="13.4" y="99" font-size="12.5px" font-weight="bold" fill="#fff">1.37</text>
<text x="40.8" y="99.4" font-size="34.6px" fill="#fff" stroke="url(#gpx2)" stroke-width="0.8" textLength="33.6" lengthAdjust="spacingAndGlyphs">62</text>
<text x="80" y="82.7" font-size="12px" fill="#fff">8</text>
<text x="123.4" y="99" font-size="12.5px" font-weight="bold" fill="#fff">1.37</text>
<text x="152" y="99.4" font-size="34.6px" fill="#fff" stroke="url(#gpx2)" stroke-width="0.8" textLength="33.6" lengthAdjust="spacingAndGlyphs">65</text>
<text x="191" y="82.7" font-size="12px" fill="#fff">7</text>
</g>
<rect x="1694" y="24" width="1" height="919" fill="#ececec" shape-rendering="crispEdges"/><rect x="1693" y="26" width="1" height="917" fill="#fafafa" shape-rendering="crispEdges"/>
</svg>
</body></html>
